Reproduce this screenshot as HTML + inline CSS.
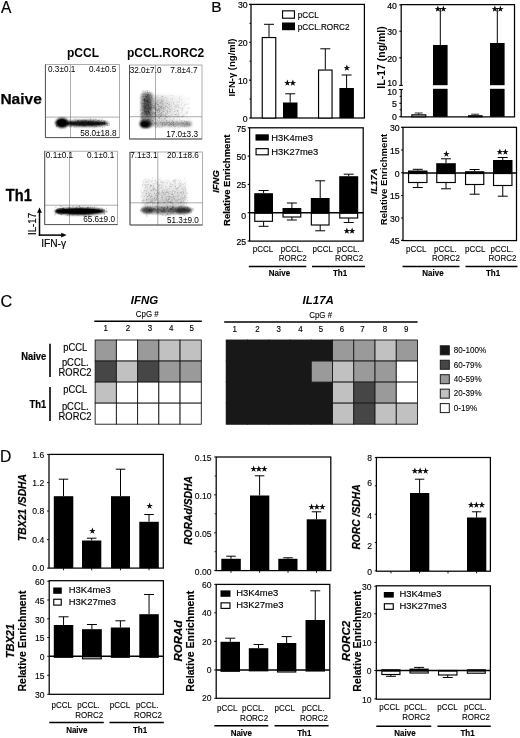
<!DOCTYPE html>
<html lang="en"><head><meta charset="utf-8"><title>Figure</title>
<style>
html,body{margin:0;padding:0;background:#fff}
body{width:520px;height:738px;overflow:hidden}
svg{display:block;font-family:"Liberation Sans",Arial,Helvetica,sans-serif;fill:#000}
</style></head><body>
<svg width="520" height="738" viewBox="0 0 520 738">
<defs>
<filter id="b1" x="-50%" y="-50%" width="200%" height="200%"><feGaussianBlur stdDeviation="1.3"/></filter>
<filter id="b2" x="-20%" y="-20%" width="140%" height="140%"><feGaussianBlur stdDeviation="2"/></filter>
<linearGradient id="gfade" x1="0" x2="1" y1="0" y2="0"><stop offset="0" stop-color="#000" stop-opacity="0.2"/><stop offset="0.5" stop-color="#000" stop-opacity="0.08"/><stop offset="1" stop-color="#000" stop-opacity="0.02"/></linearGradient>
<linearGradient id="gfade2" x1="0" x2="0" y1="0" y2="1"><stop offset="0" stop-color="#000" stop-opacity="0.04"/><stop offset="1" stop-color="#000" stop-opacity="0.17"/></linearGradient>
<filter id="b0" x="-50%" y="-50%" width="200%" height="200%"><feGaussianBlur stdDeviation="0.7"/></filter>
</defs>
<rect width="520" height="738" fill="#fff"/>
<text transform="translate(1 12.8) scale(0.94 1)" font-size="16.5" stroke="#000" stroke-width="0.2">A</text>
<text transform="translate(211.2 12.3) scale(1.02 1)" font-size="15.2" stroke="#000" stroke-width="0.2">B</text>
<text transform="translate(0.4 306.8) scale(0.97 1)" font-size="16.8" stroke="#000" stroke-width="0.2">C</text>
<text transform="translate(0 462.3) scale(0.98 1)" font-size="16" stroke="#000" stroke-width="0.2">D</text>
<text x="83" y="56.5" font-size="12" text-anchor="middle" font-weight="bold">pCCL</text>
<text x="165.6" y="56.7" font-size="12" text-anchor="middle" font-weight="bold">pCCL.RORC2</text>
<text x="0.4" y="103.9" font-size="15.5" font-weight="bold" stroke="#000" stroke-width="0.25">Naive</text>
<text transform="translate(5.8 200.9) scale(0.93 1)" font-size="15.7" font-weight="bold" stroke="#000" stroke-width="0.3">Th1</text>
<rect x="45.4" y="64.5" width="74.1" height="73.1" fill="#fff" stroke="#9a9a9a" stroke-width="0.8"/>
<line x1="70.5" y1="64.5" x2="70.5" y2="137.6" stroke="#8a8a8a" stroke-width="0.7"/>
<line x1="45.4" y1="117.1" x2="119.5" y2="117.1" stroke="#8a8a8a" stroke-width="0.7"/>
<path d="M45.4 64.5V137.6H119.5" fill="none" stroke="#555" stroke-width="1"/>
<ellipse cx="62" cy="123" rx="6.6" ry="5" fill="#000" opacity="0.97" filter="url(#b1)"/>
<ellipse cx="86" cy="123.3" rx="22.5" ry="3.3" fill="#000" opacity="0.8" filter="url(#b1)"/>
<ellipse cx="62" cy="123" rx="4.8" ry="3.4" fill="#000" opacity="0.9" filter="url(#b0)"/>
<ellipse cx="86" cy="123.4" rx="20" ry="1.9" fill="#000" opacity="0.5" filter="url(#b0)"/>
<path d="M80.42 124.43h.01M80.83 122.61h.01M70.98 122.83h.01M99.57 124.23h.01M98.52 123.85h.01M89.53 123.71h.01M60.68 125.18h.01M91.09 124.4h.01M60.32 119.46h.01M71.55 122.27h.01M88.28 123.2h.01M91.29 121.89h.01M88.32 124.17h.01M74.74 127.08h.01M91.79 125.93h.01M75.32 121.67h.01M79.18 123.07h.01M92.85 123.85h.01M77.74 121.19h.01M76.71 125.99h.01M72.69 123.84h.01M89.97 120.02h.01M84.68 126.17h.01M55.8 122.59h.01M82.51 121.5h.01M90.96 123.16h.01M63.49 125.12h.01M93.37 125.38h.01M104.17 124.1h.01M85.67 120.44h.01M92.62 121.95h.01M77.66 120.52h.01M70.45 122.13h.01M102.04 118.83h.01M63.59 123.83h.01M104.21 124.57h.01M89 121.68h.01M68.32 125.45h.01M99.43 123.65h.01M87.44 124.26h.01M106.32 124.66h.01M91.26 124.51h.01M62.04 126.12h.01M97.37 124.47h.01M56.37 121.91h.01M95.79 119.32h.01M81.42 125.54h.01M65.64 126.84h.01M91.73 122.97h.01M88.55 124.73h.01M85.69 125.82h.01M74.74 122.39h.01M98.58 123.36h.01M71.67 125.38h.01M104.52 122.32h.01M64.68 123h.01M81.91 122.64h.01M103.67 121.04h.01M101.65 120.51h.01M72.98 124.69h.01M99.8 125.19h.01M88.83 123.61h.01M86.13 124.57h.01M81.53 123.91h.01M92.02 123.3h.01M94.7 124.54h.01M78.01 122.48h.01M83.82 125.33h.01M79.29 124.15h.01M68.27 123.84h.01M89.58 123.82h.01M77.96 124.74h.01M87.95 122.15h.01M76.24 123.08h.01M80.84 123.16h.01M98.12 120.73h.01M83.07 125.4h.01M95.99 126.58h.01M60.18 122.52h.01M79.23 124.67h.01M99.24 120.12h.01M93.56 120.02h.01M86.46 125.93h.01M81.91 123.72h.01M95.16 123.61h.01M82.76 126.67h.01M98.68 122.65h.01M96.8 122.72h.01M85.85 124.85h.01M87.11 124.71h.01M62.62 119.98h.01M92.61 121.18h.01M69.63 120.07h.01M101.73 124.94h.01M104.62 121.24h.01M84.01 120.79h.01M94.72 126.8h.01M71.54 126.73h.01M97.83 122.91h.01M56.39 126.39h.01M82.65 121.97h.01M89.59 124.2h.01M104.97 121.06h.01M99.91 126.57h.01M104.33 122.9h.01M73.58 125.54h.01M85.61 123.57h.01M103.94 122.72h.01M58.05 125.1h.01M88.44 121.96h.01M83.87 125.13h.01M85.11 126.22h.01M83.14 125.59h.01M104.88 126.84h.01M74.59 125.24h.01M57.74 120.92h.01M56.52 125.65h.01M66.75 123.27h.01M81.31 123.24h.01M75.72 123.81h.01M109.08 123.4h.01M91.43 125.5h.01M81.23 120.53h.01M76.22 125.66h.01M60.95 121.98h.01M98.1 125.04h.01M84.11 125.07h.01M86.32 120.71h.01M62.1 121.89h.01M96.92 122.06h.01M71.37 121.6h.01M62.56 123.04h.01M67.49 124.1h.01M75.02 119.03h.01M94.15 122.69h.01M88.07 122.29h.01M94.92 124.94h.01M93.33 124.02h.01M102.67 124.75h.01M90.32 118.72h.01M96.55 126.18h.01M79.84 122.27h.01M71.01 124.82h.01M91.86 125.29h.01M71.32 123.1h.01M88.1 125.12h.01M83.52 122.87h.01M69.77 122.51h.01M96.48 123.52h.01M72.06 121.45h.01M92.7 124.36h.01M107.58 124.24h.01M83.06 124.45h.01M56.78 125.57h.01M88.55 121.76h.01M102.56 127.28h.01M64.37 121.83h.01M88.08 123.7h.01M78.42 121.16h.01M67.28 120.34h.01M107.84 125.48h.01M109.49 125.08h.01M71.79 123.87h.01M83.18 124.45h.01M73.81 123.03h.01M90.42 124.13h.01M92.93 123.76h.01M79.46 125.04h.01M84.69 121.48h.01M75.24 123.3h.01M82.47 123.65h.01M83.99 123.69h.01M82.12 120.53h.01M89.9 125.62h.01M90.09 122.88h.01M90.25 121.18h.01M57.45 123.43h.01M70.97 124.93h.01M69.45 126.77h.01M78.65 120.29h.01M73.31 124.45h.01M90.96 123.69h.01M104.77 124.85h.01M83.71 124.61h.01M107.16 125.44h.01M98.33 120.92h.01M81.92 124.91h.01M79.85 125.65h.01M92.35 125.3h.01M101.36 122.83h.01M79.19 125.22h.01M97.73 123.31h.01M67.66 123.71h.01M89.03 125.79h.01M94.96 123.35h.01M95.95 124.49h.01M86.88 123.42h.01M80.59 124.81h.01M69.24 121.92h.01M84.07 120.08h.01" stroke="#000" stroke-width="0.9" stroke-linecap="round" opacity="0.4" fill="none"/>
<text x="48" y="71.6" font-size="8.2">0.3±0.1</text>
<text x="116.3" y="71.6" font-size="8.2" text-anchor="end">0.4±0.5</text>
<text x="116.5" y="135.5" font-size="8.2" text-anchor="end">58.0±18.8</text>
<rect x="44.7" y="151.2" width="72.8" height="73.4" fill="#fff" stroke="#9a9a9a" stroke-width="0.8"/>
<line x1="69.5" y1="151.2" x2="69.5" y2="224.6" stroke="#8a8a8a" stroke-width="0.7"/>
<line x1="44.7" y1="205.2" x2="117.5" y2="205.2" stroke="#8a8a8a" stroke-width="0.7"/>
<path d="M44.7 151.2V224.6H117.5" fill="none" stroke="#555" stroke-width="1"/>
<ellipse cx="80" cy="211.3" rx="25.5" ry="3.6" fill="#000" opacity="0.95" filter="url(#b1)"/>
<ellipse cx="79" cy="211.2" rx="22.5" ry="2.6" fill="#000" opacity="0.85" filter="url(#b0)"/>
<ellipse cx="61" cy="211.2" rx="5.5" ry="3.3" fill="#000" opacity="0.5" filter="url(#b0)"/>
<path d="M73.03 206.38h.01M69.07 212.56h.01M89.06 211.07h.01M76.29 207.8h.01M97.5 209.08h.01M77.04 206.83h.01M92.49 213.44h.01M90.09 206.97h.01M69.93 207.83h.01M80.51 211.8h.01M90.14 212.88h.01M104.04 213.99h.01M59.01 209.99h.01M63.04 208.62h.01M78.7 211.21h.01M87.85 207.39h.01M60.2 211.14h.01M76.81 210.45h.01M78.99 209.38h.01M91.22 212.05h.01M78.6 209.59h.01M64.3 211.29h.01M55.93 211.68h.01M82.36 207.89h.01M75.99 210.45h.01M87.36 212.67h.01M79.42 209.16h.01M77.69 211.04h.01M91.75 211.91h.01M68.44 207.95h.01M74.03 209.42h.01M62.21 210.92h.01M72.14 211.45h.01M88.37 210.21h.01M97.63 211.49h.01M67.98 211.79h.01M85.16 214.27h.01M92.26 213.47h.01M88.16 210.83h.01M88.15 208.61h.01M98.9 208.76h.01M83.99 216.29h.01M76.43 211.25h.01M98.61 211.26h.01M67.08 211.82h.01M89.31 212.9h.01M67.64 215.41h.01M106.67 211.24h.01M84.3 210.17h.01M102.63 209.51h.01M90.79 210.05h.01M68.9 212.92h.01M101.34 211.18h.01M69.16 213.15h.01M79.21 211.95h.01M104.37 213.92h.01M80.05 213.09h.01M69.64 211.09h.01M101.85 208.28h.01M55.92 207.31h.01M98.81 210.1h.01M79.03 210.45h.01M78.06 208.59h.01M80.39 207.75h.01M78.86 211.94h.01M87.48 210.64h.01M65.54 211.58h.01M72.25 214.96h.01M92.28 210.92h.01M72.46 209.51h.01M65 210.35h.01M84.72 212.44h.01M89.1 216.24h.01M68.72 211.23h.01M71.66 211.61h.01M82.47 212.18h.01M76.18 212.08h.01M80.84 213.05h.01M79.96 208.72h.01M63.29 212.71h.01M69.6 212.72h.01M91.93 211.94h.01M88.13 210.95h.01M57.45 211.13h.01M87.27 209.93h.01M78.41 213h.01M65.95 212.74h.01M82.34 210.84h.01M104.64 211.96h.01M94.36 209.54h.01M79.74 211.18h.01M94.39 207h.01M91.91 210.89h.01M87.17 212.08h.01M56.02 210.69h.01M103.88 209.82h.01M63.63 207.94h.01M60.46 212.01h.01M107.08 212.23h.01M71.69 209.58h.01M88.46 212.52h.01M63.76 208.39h.01M84.66 211.79h.01M59.09 210.71h.01M71.32 212.3h.01M78.13 210.99h.01M74.34 213.73h.01M102.25 210.32h.01M93.54 209.38h.01M81.15 213h.01M104.23 210.28h.01M78.81 211.67h.01M56.03 211.24h.01M69.19 212.09h.01M61.92 206.46h.01M80.61 211.83h.01M71.22 213.33h.01M75.63 209.75h.01M87.64 207.44h.01M69.16 211.15h.01M93.58 210.81h.01M84.94 209.63h.01M84.83 215.19h.01M69.7 211.24h.01M82.77 213.66h.01M60.21 206.16h.01M89.7 213.11h.01M83.28 211.81h.01M94.87 212.09h.01M106.62 208.23h.01M93 210.31h.01M94.78 216.37h.01M79.91 210.59h.01M72.01 209.19h.01M69.91 212.73h.01M80.59 211.36h.01M77.23 213.39h.01M87.9 210.86h.01M90.64 210.84h.01M61.55 214.69h.01M87.44 208.9h.01M97.26 212.03h.01M54.97 215.06h.01M85.34 213.34h.01M83.17 210.84h.01M55.23 213.53h.01M80.48 210.51h.01M85.61 211.39h.01M90.81 210.31h.01M79.42 206.07h.01M73.23 212.82h.01M101.39 210.33h.01M78.06 215h.01M74.79 212.96h.01M106.85 211.3h.01M99.63 209.49h.01M83.32 211.01h.01M81.84 213.91h.01M70.8 212.39h.01M63.12 212.39h.01M89.15 210.53h.01M88.5 207.48h.01M92.16 207.49h.01M68.86 209.87h.01M73.58 213.26h.01M81.31 210.25h.01M88.7 215h.01M80.1 212.08h.01M99.84 211.84h.01M79.37 212.2h.01M95.45 212.81h.01M75.64 208.67h.01M81.65 213.68h.01M62.57 208.73h.01M79.61 206.55h.01M75.84 210.15h.01M87.21 209.52h.01M65.89 210.25h.01M79.2 209.6h.01M80.19 213h.01" stroke="#000" stroke-width="0.9" stroke-linecap="round" opacity="0.4" fill="none"/>
<text x="45.8" y="157.6" font-size="8.2">0.1±0.1</text>
<text x="114.3" y="157.6" font-size="8.2" text-anchor="end">0.1±0.1</text>
<text x="115" y="222.3" font-size="8.2" text-anchor="end">65.6±9.0</text>
<rect x="129.5" y="65" width="72.5" height="74" fill="#fff" stroke="#9a9a9a" stroke-width="0.8"/>
<line x1="155.5" y1="65" x2="155.5" y2="139" stroke="#8a8a8a" stroke-width="0.7"/>
<line x1="129.5" y1="116.7" x2="202" y2="116.7" stroke="#8a8a8a" stroke-width="0.7"/>
<path d="M129.5 65V139H202" fill="none" stroke="#555" stroke-width="1"/>
<rect x="140.8" y="92.5" width="12.4" height="35" rx="4" fill="#000" opacity="0.42" filter="url(#b1)"/>
<ellipse cx="147.3" cy="105" rx="3.8" ry="11" fill="#000" opacity="0.36" filter="url(#b1)"/>
<ellipse cx="145.3" cy="124" rx="5.8" ry="4.1" fill="#000" opacity="0.88" filter="url(#b1)"/>
<ellipse cx="144.6" cy="124.3" rx="3.5" ry="2.6" fill="#000" opacity="0.7" filter="url(#b0)"/>
<rect x="153.5" y="96" width="34" height="24" fill="url(#gfade)" filter="url(#b2)"/>
<rect x="152.5" y="121" width="39.5" height="5.8" rx="2" fill="#000" opacity="0.27" filter="url(#b1)"/>
<ellipse cx="186" cy="124.2" rx="5" ry="2.2" fill="#000" opacity="0.12" filter="url(#b1)"/>
<path d="M150.59 123.2h.01M144.29 103.01h.01M144.48 106.68h.01M148.47 94.09h.01M148.28 106.75h.01M140.96 109.77h.01M149.38 108.99h.01M148.32 111.19h.01M150.97 104.88h.01M149.6 103.11h.01M149.13 99.27h.01M146.45 123.44h.01M148.23 105.5h.01M143.14 99.49h.01M147.42 115.92h.01M148.16 111.98h.01M146.67 119.84h.01M145.55 101.78h.01M149.64 107.6h.01M145.91 101.53h.01M145.98 112.92h.01M147.93 95.51h.01M148.16 108.7h.01M143.6 114.34h.01M145.9 103.81h.01M149.35 119.55h.01M144.6 111.16h.01M145.22 118.35h.01M144.73 114.71h.01M145.41 111.75h.01M146.5 100.65h.01M141.54 115.11h.01M141.29 117.93h.01M144.95 108.38h.01M150.84 108.12h.01M142.35 90.89h.01M150.58 114.03h.01M144.19 115.17h.01M148.39 113.15h.01M149.68 113.97h.01M147.34 111.68h.01M145.75 107.34h.01M149.64 102.79h.01M150.47 99.51h.01M147.65 101.99h.01M147.31 100.44h.01M141.69 117.38h.01M147.77 101.69h.01M147.44 116.41h.01M143.67 105.95h.01M148.53 112h.01M150.78 110.12h.01M146.84 104.35h.01M147.64 102.96h.01M143.52 99.97h.01M144.89 101.18h.01M143.09 113.05h.01M142.61 113.27h.01M143.55 110.35h.01M151.2 108.93h.01M144.46 107.46h.01M147.27 90.53h.01M144.86 108.55h.01M145.3 107.76h.01M149.15 114.28h.01M149.7 112.59h.01M145.88 106.83h.01M145.93 104.02h.01M146.23 90.62h.01M145.73 106.77h.01M143.68 106.77h.01M148.45 105.44h.01M148.46 104.13h.01M149.53 110.53h.01M146.87 101.42h.01M148.84 102.39h.01M147.51 102.15h.01M147.45 114.17h.01M144 106.69h.01M148.77 108.38h.01M150.78 125.92h.01M149.54 121.53h.01M149.75 114.73h.01M144.82 100.22h.01M149.64 98.34h.01M141 97.52h.01M144.6 100.07h.01M147.54 99.88h.01M150.99 106.26h.01M143.32 119.43h.01M144.93 109.1h.01M146.76 104.01h.01M147.84 100.42h.01M142.75 99.79h.01M146.73 107.53h.01M148.58 108.14h.01M144.26 100.27h.01M148.35 112.03h.01M146.41 105.35h.01M149.8 107.15h.01M149.16 112.53h.01M147.48 119.41h.01M144.97 103.59h.01M144.21 99.43h.01M151.78 123.71h.01M146.87 112.4h.01M150.56 114.67h.01M150.66 95h.01M144.75 111.3h.01M151.39 107.99h.01M144.05 103.63h.01M144.69 98.85h.01M151.6 101.06h.01M146.87 127.54h.01M150.59 110.19h.01M144.84 110.9h.01M151.99 112.92h.01M150.84 107.93h.01M148.45 105.09h.01M148.17 119.35h.01M142.22 106.41h.01M147.57 101.57h.01M145.81 114.48h.01M153.21 112.98h.01M147.84 92.26h.01M152.97 107.73h.01M146.69 96.38h.01M146.62 96.59h.01M147.03 111.43h.01M146.9 109.66h.01M144.07 120.58h.01M146.2 99.74h.01M143.57 103.63h.01M147.73 95.77h.01M146.36 120.55h.01M148.98 105.56h.01M147.21 105.86h.01M146.65 113.96h.01M146.73 98.55h.01M148.88 101.2h.01M147.27 127.68h.01M143.45 96.32h.01M140.79 110.46h.01M142.06 112.86h.01M144.32 103.51h.01M147.86 119.89h.01M153.01 116.81h.01M147.26 108.75h.01M152.57 120.57h.01M145.81 111.35h.01M147.72 107.5h.01M145.2 94.4h.01M145.09 92.33h.01M150.72 112.1h.01M142.94 120.26h.01M152.69 114.69h.01M148.5 111.02h.01M147.45 108.63h.01M150.17 92.8h.01M142.83 93.76h.01M145.02 101.25h.01M147.98 109.53h.01M146.9 100.57h.01M145.39 116.05h.01M149.24 107.96h.01M145.77 121.75h.01M144.9 113.16h.01M150.49 104.48h.01M149.44 96.4h.01M150.04 108.9h.01M141.72 113.36h.01M143.94 119.18h.01M144.63 105.44h.01M147.71 103.84h.01M147.63 101.74h.01M148.95 107.05h.01M150.52 107.3h.01M141.1 107.91h.01M148.3 117.17h.01M143.34 121.7h.01M146.33 113.46h.01M145.63 96.4h.01M150.31 115.61h.01M151.72 115.14h.01M144.97 91.21h.01M144.72 100.59h.01M144.19 112.53h.01M147.85 104.44h.01M147.35 105.62h.01M147.48 114.14h.01M149.87 100.48h.01M141.98 120.56h.01M147.17 117.5h.01M141.54 103.87h.01M146.89 93.31h.01M145.15 113.88h.01M150.25 122.14h.01M144.04 93.69h.01M148.47 115.93h.01M147.42 94.64h.01M149.3 114.53h.01M148.57 102.37h.01M147.77 114.51h.01M147.85 111.57h.01M146.84 115.45h.01M144.92 106.22h.01M145.82 112.43h.01M151.91 104.61h.01M153.38 121.53h.01M149.33 112.58h.01M152.47 105.29h.01M146.44 96.91h.01M148.31 119.78h.01M148.5 111.02h.01M146.16 108.61h.01M142.24 116.96h.01M145.49 96.51h.01M144.4 99.17h.01M149.54 117.05h.01M142.46 115.8h.01M149.64 101.5h.01M142.04 99.92h.01M144.77 110.25h.01M147.55 92.42h.01M149.7 95.53h.01M144.58 98.88h.01M145.06 119.33h.01M149.53 112.72h.01M147.82 92.3h.01M145.13 101.76h.01M143.67 111.84h.01M144.43 100.26h.01M148.7 119.64h.01M147.36 97.72h.01M150.69 109.82h.01M149.77 121.04h.01M150.41 102.81h.01M150.17 114.37h.01M141.88 103.15h.01M142.24 105.96h.01M148.65 96.85h.01M148.01 120.98h.01M142.56 117.08h.01M146.13 109.56h.01M146.31 116.49h.01M150.12 107.83h.01M142.45 114.04h.01M145.3 112.97h.01M147.64 122.42h.01M150.44 102.72h.01M147.92 123.76h.01M145.08 111.12h.01M150.61 118.94h.01M148.46 94.46h.01M142.76 109.35h.01M144.04 117.81h.01M149.27 91.12h.01M144.18 108.58h.01M145.22 105.53h.01M148.3 99.31h.01M148.29 100.96h.01M145.06 112.1h.01M144.96 109.73h.01M151.92 107.26h.01M146.33 113.99h.01M145.63 117.29h.01M142.69 112.88h.01M145.16 99.41h.01M152.46 98.92h.01M152.42 113.25h.01M151.45 97.72h.01M150.64 120.84h.01M146.43 105.77h.01M145.45 101.02h.01M148.23 110.14h.01M147.37 123.35h.01M145.75 111.49h.01M151.47 97.46h.01M150.12 124.4h.01M142.46 96.57h.01M148.4 120.8h.01M141.63 103.99h.01M140.66 114.4h.01M144.44 104.47h.01M146.97 112.18h.01M145.69 107.14h.01M145.05 108.09h.01M143.05 107.6h.01M140.62 102.34h.01M152.93 107.76h.01M142.77 109.44h.01M143.69 91.31h.01M144.44 114h.01" stroke="#000" stroke-width="0.8" stroke-linecap="round" opacity="0.3" fill="none"/>
<path d="M167.65 114.37h.01M153.91 100.73h.01M159.12 118.41h.01M162.78 108.47h.01M167.24 112.02h.01M159.29 114.12h.01M162.51 104.03h.01M163.94 110.17h.01M161.5 104.38h.01M161.18 96.26h.01M158.35 104.82h.01M178.12 102.2h.01M157.94 114.55h.01M163.39 120.3h.01M175.48 107.79h.01M159.13 106.91h.01M165.86 115.27h.01M167.6 109.96h.01M171.46 107.4h.01M183.85 107.2h.01M158.5 108.83h.01M153.59 115.73h.01M168.52 113.49h.01M166.93 101.41h.01M166.2 101.22h.01M169.49 112.1h.01M162.07 120.32h.01M173.64 113.31h.01M154.03 112.32h.01M174.35 118.9h.01M159.94 103.87h.01M177.71 111.69h.01M157.68 100.11h.01M158.53 103.71h.01M161.39 112.6h.01M167.87 111.8h.01M165.23 108.49h.01M154.06 119.54h.01M165.49 118.79h.01M188.62 108.31h.01M160.35 109.92h.01M162.53 101.46h.01M160.94 118.14h.01M156.84 115.95h.01M155.8 110.23h.01M169.62 109.57h.01M155.32 112.65h.01M182.01 108.82h.01M157.38 110.83h.01M172.02 110.42h.01M174.32 111.72h.01M171 116.97h.01M154.73 99.94h.01M167.37 107.39h.01M153.66 106.85h.01M153.71 101.42h.01M154.66 98.28h.01M158.72 108.92h.01M181.12 105.02h.01M162.83 116.18h.01M165.48 112.13h.01M161.59 107.64h.01M175.85 105.74h.01M159.82 103.01h.01M161.08 101.15h.01M160.32 113.58h.01M165.21 108.8h.01M170.51 112.65h.01M166.53 103.54h.01M158.67 100.63h.01M161.33 115.06h.01M169.66 104.79h.01M166.39 120.32h.01M158.16 101.23h.01M153.52 108.86h.01M165.87 117.33h.01M177.2 111.18h.01M178.58 108.07h.01M176.88 116.06h.01M157.98 102.26h.01M180.17 113.5h.01M187.81 98.83h.01M159.46 117.7h.01M175.85 114.35h.01M156.63 109.52h.01M166.57 105.82h.01M156.74 101.96h.01M157.62 109.59h.01M162.12 96.22h.01M154.79 113.99h.01M157.21 97.41h.01M163.83 100.09h.01M162.56 105.39h.01M156.49 106.91h.01M156.29 107.34h.01M165.14 102.71h.01M160.71 105.26h.01M154.14 109.04h.01M167.52 112.03h.01M175.17 115.12h.01M159.42 117.91h.01M163.76 111.44h.01M181.65 99.83h.01M157.75 110.33h.01M173.91 117.64h.01M177.42 115.09h.01M154.04 108.19h.01M156.64 110.82h.01M154.23 112.34h.01M164.91 115.21h.01M187.2 118.81h.01M160.59 113.47h.01M155.29 115.1h.01M165.14 108.04h.01M167.83 120.25h.01M160.49 106.48h.01M161.83 119.97h.01M157.01 115.1h.01M159.57 110.89h.01M154.17 101.44h.01M175.11 106.78h.01M154.3 117.22h.01M169.32 106.47h.01M173.36 119.07h.01M155.06 106.91h.01M155.36 114.67h.01M162.69 112.21h.01M155.66 114.33h.01M156.54 110.44h.01M154.01 114.26h.01M181.72 112.65h.01M161.8 106.85h.01M167.36 103.26h.01M161.93 102.04h.01M167.35 112.81h.01M154.32 113.65h.01M171.01 105.54h.01M182.14 108.12h.01M157.84 105.79h.01M157.93 111.8h.01M179.12 107.2h.01M162.95 113.42h.01M158.86 112.53h.01M154.32 118.31h.01M156.82 102.67h.01M162.59 108.19h.01M156.65 115.14h.01M189.78 108h.01M154.94 105.59h.01M171.65 103.88h.01M176.53 107.27h.01M153.53 112.97h.01M178.49 104.76h.01M161.5 108.7h.01M187.52 111.43h.01M155.58 119.07h.01M156.28 111.02h.01M156.57 97.77h.01M154.66 118.26h.01M163.08 114.86h.01M157.98 112.32h.01M170.72 119.43h.01M176.87 105.13h.01M154.45 106.99h.01M171.97 99.45h.01M154.3 116.05h.01M176.8 102.15h.01M162.56 111.1h.01M182.28 109.01h.01M178.44 114.29h.01M159.9 113.24h.01M166.15 115.68h.01M153.57 101.41h.01M163.65 108.49h.01M155.3 106.45h.01M181.58 96.03h.01M158.92 107.73h.01M172.98 102.37h.01M163.06 96.16h.01M163.58 100.36h.01M153.79 107.73h.01M155.02 114.19h.01M157.54 110.26h.01M154.92 107.81h.01M170.31 109.98h.01M166.31 110.83h.01M165.53 97.94h.01M155.02 107.82h.01M182.01 109.03h.01M155.34 107.27h.01M163.03 103.43h.01M155.32 109.47h.01M160.78 116.05h.01M181.14 117.11h.01M155.73 98.35h.01M156.01 104.01h.01M177.98 116.38h.01M161.14 106.66h.01M179.13 102.07h.01M174.5 106.56h.01M159.21 114.22h.01M187.65 107.91h.01M177.13 110.93h.01M163.7 107.47h.01M161.18 107.22h.01M167.52 103.42h.01M154.5 116.44h.01M161.44 107.96h.01M155.6 109.45h.01M153.99 99.15h.01M167.86 108.38h.01M157.97 120.74h.01M164.44 118.79h.01M157.54 104.72h.01M158.25 116.95h.01M158.6 107.22h.01M166.13 106.46h.01M162.29 108.99h.01M164.18 111.8h.01M155.47 112.6h.01M158.37 104.35h.01M157.4 112.93h.01M154.79 95.75h.01M166.68 105.38h.01M165.32 106.55h.01M170.85 105.43h.01M162.15 99.64h.01M162.36 106.43h.01M158.71 109.76h.01M163.56 114.8h.01M160.26 108.5h.01M159.59 108.91h.01M181.21 110.19h.01M162.97 119.04h.01M158.19 115.76h.01M174.21 109.01h.01M161.62 115.69h.01M154.4 103.35h.01M172.11 114.73h.01M155.12 112.45h.01M155.85 105.86h.01M169.25 115.47h.01M166.91 117.68h.01M163.71 98.24h.01M172.29 108.97h.01M162.53 96.85h.01M175.02 105.21h.01M165.84 109.85h.01M163.14 119h.01M161.08 107.23h.01M174.93 116.65h.01M160.18 102.15h.01M161.93 97.9h.01M158.35 112.64h.01M160.44 102.55h.01M158.94 106.98h.01M175.16 114.67h.01M161.72 102.35h.01M156.35 108.1h.01M165.49 113.46h.01M158.98 118.35h.01M179.46 119.46h.01M161.28 110.43h.01M154.18 108.91h.01M174.29 109.78h.01M164.33 118.55h.01M163.7 109.4h.01M169.68 104.08h.01M166.14 114.01h.01M159.55 120.17h.01M163.93 105.88h.01M154.96 104.15h.01M165.04 114.89h.01M162.84 96.22h.01M164.07 111.35h.01M158.86 105.3h.01M155.14 101.51h.01M184.99 104.37h.01M184.17 105.66h.01M158.29 111.59h.01M163.53 104.66h.01M156.32 109.35h.01M167.42 103.92h.01M167.67 116.95h.01M175.19 111.53h.01M158.63 109.26h.01M158.58 108.88h.01M179.35 99.96h.01M156.57 103.76h.01M163.14 103.93h.01M168.07 107.56h.01M164.11 119.3h.01M160.91 109.32h.01M155.31 116.5h.01M155.08 120.05h.01M154.98 113.87h.01M177.75 117.51h.01M166.79 110.44h.01M153.68 106.98h.01M174.11 104.25h.01M159.61 120.17h.01M156.1 109.14h.01M186.29 112.91h.01M165.72 104.73h.01M160.32 116.17h.01M154.29 117.16h.01M161.61 105.36h.01M154.13 105.61h.01M190.9 113.49h.01M185.58 104.34h.01M177.19 106.13h.01M163.08 114.82h.01M160.42 107.76h.01M171.25 110.65h.01M182.65 115.85h.01M162.77 110.99h.01M156.17 104.1h.01M159.71 117.27h.01M165.04 116.45h.01M160.32 115.62h.01M160.73 113.03h.01M177.97 111.04h.01M159.56 109.66h.01M158.17 114.38h.01M157.29 120.32h.01M159.35 111.91h.01M155.87 108.59h.01M157.9 106.32h.01M178.73 115.14h.01M178.84 115.34h.01M176.38 113.28h.01M171.45 115.39h.01M160.12 114.45h.01M163.34 110.67h.01M155.46 117.65h.01M170.66 108.41h.01M159.92 109.74h.01M156.85 119.76h.01M182.32 115.95h.01M164.45 115.77h.01M157.91 110.51h.01M168.5 102.18h.01M165.24 106.72h.01M154.76 116.42h.01M156.23 113.41h.01M168.72 104.19h.01M155.12 102.93h.01M163.21 106.8h.01M158.43 115.43h.01M157.09 112.11h.01M155.39 108.23h.01M160.73 103.52h.01M187.04 111.93h.01M155.48 109.2h.01M169.44 111.31h.01M168.75 104.9h.01M168.56 115.72h.01M170.32 109.64h.01M167.38 111.05h.01M187.64 112.87h.01M172.04 109h.01M154.07 107.4h.01M155.97 111.54h.01M160.21 115.54h.01M154.06 105.51h.01M156.27 119.42h.01M179.11 98.73h.01M157.62 104.42h.01M161.49 106.71h.01M153.51 103.13h.01M178.66 110.52h.01M154.11 103.42h.01M180.45 107.68h.01M157.42 108.04h.01M155.15 110.83h.01M187.93 104.52h.01M172.88 119.4h.01M160.5 115.45h.01M172.77 112.39h.01M154.82 104.14h.01M169.97 117.46h.01M172.28 114.58h.01M161.94 100.26h.01M154.28 106.97h.01M163.54 101.98h.01M190.36 118.33h.01M154.13 118.63h.01M170.48 111.5h.01M164.57 104.02h.01M157.52 102.35h.01M154.36 104.66h.01M156.65 115.52h.01M158.71 117.18h.01M169.04 118.39h.01M157.3 109.97h.01M161.74 118.52h.01M183.74 114.58h.01M155.64 103.27h.01M177.15 106.88h.01M164.63 109.8h.01M168.87 104.94h.01M166.28 97.09h.01M178.4 112.59h.01M155.2 107.76h.01M156.74 116.38h.01M154.37 108.54h.01M170.43 114.38h.01M161.82 114.54h.01M162.35 113.83h.01M159.81 110.93h.01M153.65 112.02h.01M171.18 106.36h.01M162.9 108.1h.01M161.47 112.97h.01M153.62 118.22h.01M188.78 103.01h.01M168.3 109.45h.01M155.59 115.14h.01M153.89 111.69h.01M158.42 95.32h.01M156.38 100.12h.01M190.09 98.44h.01M156.08 112.55h.01M172.48 95.7h.01M159.04 115.1h.01M159.94 102.67h.01M178.42 107.23h.01M157.33 118.88h.01M167.35 111.99h.01M177.49 105.01h.01M163.05 105.11h.01M158.48 109.51h.01M165.68 119.52h.01M156 115.03h.01M161.7 112.69h.01M154.07 108.89h.01M161.61 113.87h.01M153.54 120.7h.01M179.23 117.6h.01M161.26 99.1h.01M158.16 104.75h.01M161.16 101.84h.01M159.29 99.21h.01M177.99 113.67h.01M186.31 112.72h.01M161.7 114.9h.01M165.1 106.64h.01M154.74 113.54h.01M187.01 114.41h.01M167.04 106.43h.01M176.84 119.98h.01M166.65 113.65h.01M162.67 101.49h.01M168.09 107.4h.01M183.79 116.05h.01M153.9 113.74h.01M161.8 119.98h.01M154.75 105.64h.01M165.67 103.38h.01M161.04 100h.01M160.57 107.69h.01M155.2 116.16h.01M155.17 113.22h.01M154.9 105.13h.01M164.09 109.42h.01M164.8 118.19h.01M157.1 106.2h.01M163.58 107.88h.01M165.93 116.22h.01M154.57 113.21h.01M161.61 115.7h.01M171.05 102.33h.01M155.01 113.11h.01M156.13 102.95h.01M155.56 104.5h.01M174.46 114.66h.01M160.02 111.45h.01M153.71 105.19h.01M158.49 106.6h.01M170.71 95.46h.01M167.09 116.55h.01M182.15 103.04h.01M156.08 109.3h.01M173.69 102.65h.01M169.47 111.26h.01M160.04 106.09h.01M172.21 120.86h.01M154.12 105.65h.01M166.46 117.17h.01M176.25 115.04h.01M155.18 119.53h.01M157.61 104.42h.01M156.5 95.98h.01M165.69 114.2h.01M155.19 113.1h.01M176.08 109.98h.01M156.37 103.65h.01M169.77 107.42h.01M160.21 118.94h.01M169.87 116.04h.01M159.37 114.66h.01M182.4 116.69h.01M176.06 114.14h.01M177.38 110.55h.01M169.43 102.85h.01M155.91 114.83h.01M179.61 97.55h.01M166.71 118.96h.01M154.6 107h.01M184.92 114.1h.01M165.96 113.9h.01M159.77 110.74h.01M162.33 102.92h.01M159.61 106.04h.01M153.58 103.56h.01M153.79 106.27h.01M162.11 111.78h.01M155.71 109.3h.01M169.06 108.65h.01M163.2 115.43h.01M157.75 101.16h.01M174.13 111.55h.01M182.32 111.12h.01M167.6 99h.01M159.81 106.87h.01M173.68 103.7h.01M172.33 98.87h.01M159.54 108.9h.01M164.7 107.3h.01M159.26 110.98h.01M158.97 118.07h.01M159.91 108.88h.01M157.41 110.16h.01M155.54 116.42h.01M153.6 115.18h.01M161.76 103.53h.01" stroke="#000" stroke-width="0.72" stroke-linecap="round" opacity="0.2" fill="none"/>
<path d="M161.98 123.36h.01M174.35 124.58h.01M168.45 125.47h.01M169.59 121.75h.01M182.96 123.37h.01M187.14 122.87h.01M179.15 124.54h.01M158.03 126.43h.01M185.63 124.86h.01M180.42 123.14h.01M171.87 124.39h.01M177.25 125.22h.01M169.42 122.79h.01M164.98 124.71h.01M166.86 123.04h.01M167.74 123.57h.01M181.69 120.58h.01M168.18 124.82h.01M178.11 126.07h.01M185.17 122.19h.01M179.95 123.42h.01M161.97 126.65h.01M164.14 122.52h.01M166.91 122.53h.01M184.58 124.66h.01M189.5 124.71h.01M164.31 125.81h.01M163.81 123.2h.01M169.91 124.07h.01M186.94 122.95h.01M176.4 123.95h.01M156.26 122.1h.01M169.25 124.7h.01M176.01 124.83h.01M172.61 123.22h.01M177.34 122.26h.01M155.18 123.42h.01M154.1 123.11h.01M162.64 123.04h.01M171.44 122.61h.01M166.7 121.03h.01M173.82 122.47h.01M161.95 124.42h.01M173.18 124.18h.01M153.24 124.4h.01M173.87 122.31h.01M181.34 123.91h.01M172.23 123.22h.01M178.87 124.17h.01M186.26 124.78h.01M164.26 123.61h.01M183.52 123.37h.01M176.8 124.91h.01M169.74 119.95h.01M173.66 124.37h.01M173.7 122.68h.01M187.19 123.77h.01M164.17 122.75h.01M176.51 122.1h.01M159.42 127.48h.01M188.47 125.83h.01M189.16 125.04h.01M187.58 124.85h.01M189.18 123.14h.01M173.61 125.35h.01M170.93 125.91h.01M173.02 125.2h.01M173.07 121.42h.01M175.52 126.29h.01M186.34 126.99h.01M178.98 122.96h.01M172.23 120.65h.01M169.63 125.58h.01M182.39 126.32h.01M160.32 122.86h.01M178.73 127.61h.01M157.54 126.41h.01M177.39 123.14h.01M171.15 124.38h.01M184.38 126.39h.01M178.46 124.63h.01M169.68 123.29h.01M156.47 127.41h.01M166.36 120.36h.01M175.34 123.94h.01M174.22 127.18h.01M170.66 123.54h.01M162.57 123.96h.01M166.46 124.36h.01M161.17 127.38h.01M182.92 125.43h.01M181.04 125.43h.01M180.53 126.47h.01M184.73 126.36h.01M165.65 124h.01M162.78 125.68h.01M182.52 123.18h.01M187.65 122.04h.01M170.83 125.11h.01M171.55 124.68h.01M186.93 124.58h.01M158.11 125.25h.01M170.77 124.2h.01M164.83 121.58h.01M156.22 123.38h.01M186.54 121.96h.01M162.82 124.93h.01M162.27 125.16h.01M165.9 124.54h.01M173.33 124h.01M171.48 126.47h.01M165.09 124.93h.01M174.06 124.85h.01M184.56 121.37h.01M175.48 123.69h.01M168.05 122.5h.01M162.05 122.19h.01M181.4 122.29h.01M173.79 126.52h.01M171.47 122.24h.01M168.94 122.25h.01M154.33 123.59h.01M166.94 122.58h.01M160.78 122.37h.01M174.99 126.44h.01M169.34 127.92h.01M157.35 123.72h.01" stroke="#000" stroke-width="0.8" stroke-linecap="round" opacity="0.25" fill="none"/>
<text x="129.7" y="73" font-size="8.2">32.0±7.0</text>
<text x="197.5" y="73" font-size="8.2" text-anchor="end">7.8±4.7</text>
<text x="198" y="137" font-size="8.2" text-anchor="end">17.0±3.3</text>
<rect x="130" y="152" width="72.5" height="73" fill="#fff" stroke="#9a9a9a" stroke-width="0.8"/>
<line x1="157.8" y1="152" x2="157.8" y2="225" stroke="#8a8a8a" stroke-width="0.7"/>
<line x1="130" y1="202.8" x2="202.5" y2="202.8" stroke="#8a8a8a" stroke-width="0.7"/>
<path d="M130 152V225H202.5" fill="none" stroke="#555" stroke-width="1"/>
<ellipse cx="167" cy="210.1" rx="25.5" ry="4.1" fill="#000" opacity="0.45" filter="url(#b1)"/>
<ellipse cx="183.5" cy="210.4" rx="8" ry="3.7" fill="#000" opacity="0.55" filter="url(#b1)"/>
<ellipse cx="147" cy="210.1" rx="6" ry="3.7" fill="#000" opacity="0.5" filter="url(#b1)"/>
<ellipse cx="168" cy="210.3" rx="21" ry="1.8" fill="#000" opacity="0.18" filter="url(#b0)"/>
<rect x="143" y="181" width="43" height="24" fill="url(#gfade2)" filter="url(#b2)"/>
<path d="M168.49 211.52h.01M183.52 208.69h.01M148.84 209.62h.01M171.29 208.33h.01M180.06 214.37h.01M146.21 211.02h.01M181.86 205.23h.01M170.01 209.53h.01M146.19 213.43h.01M170.17 208.89h.01M173.49 211.73h.01M178.25 211.57h.01M172.98 207.12h.01M160.84 210.43h.01M161.45 207.43h.01M140.41 210.73h.01M167.47 208.62h.01M160.91 207.85h.01M156.04 209.85h.01M157.59 211.82h.01M164.92 210.43h.01M172.93 213.32h.01M175.79 210.68h.01M164.61 208.06h.01M161.99 211.83h.01M170.31 209.12h.01M147.53 206.22h.01M171.7 212.7h.01M172.47 206.62h.01M163.89 210.66h.01M153.58 210.98h.01M164.07 207.98h.01M148.85 212.15h.01M172.21 207.85h.01M152.18 212.36h.01M175.71 209.33h.01M190.28 209.37h.01M151.56 212.87h.01M164.25 210.97h.01M167.56 207.56h.01M149.66 209.61h.01M187.54 207.56h.01M186.85 210.66h.01M150.75 210.78h.01M175.29 207.82h.01M150.79 211.22h.01M155.18 206.35h.01M163.48 210.53h.01M158.87 207.11h.01M170.1 205.68h.01M174.81 211.34h.01M191.48 212.33h.01M172.18 210.77h.01M167.4 206.75h.01M188.33 211.43h.01M162.83 207.2h.01M188.64 211.44h.01M149.72 211.8h.01M172.83 209.05h.01M157.84 212.81h.01M165.19 212.1h.01M162.56 211.94h.01M179.07 207.53h.01M151.38 209.91h.01M179.13 210.8h.01M185.08 206.62h.01M174.18 208.53h.01M168.46 210.91h.01M152.87 209.52h.01M150.06 210.77h.01M154.62 208.85h.01M170.19 208.45h.01M183.72 208.49h.01M179.36 210.81h.01M151.95 209.55h.01M154.83 209.19h.01M163.06 214.69h.01M160.91 214.06h.01M173.5 206.81h.01M181.96 211.08h.01M163.95 209.47h.01M170.77 209.34h.01M159.22 209.17h.01M184.01 208.54h.01M172.52 207.2h.01M156.65 206.64h.01M164.13 211.82h.01M171.44 208.86h.01M175.88 209.23h.01M172.41 210.79h.01M148.09 212.05h.01M165.45 215.75h.01M163.59 208.71h.01M188.69 211.5h.01M164.04 211.92h.01M155.57 208.98h.01M158.95 209.54h.01M178.3 208.89h.01M171.67 208.85h.01M163.99 210.52h.01M151.36 212.65h.01M170.14 213.32h.01M180.95 211.71h.01M164.83 207.37h.01M163.81 208.94h.01M170.62 208.93h.01M184.03 208.92h.01M163.49 212.43h.01M167.04 207.05h.01M172.99 209.61h.01M151.71 208.23h.01M173.99 210.85h.01M162.79 215.55h.01M173.08 208.56h.01M170.43 209.8h.01M146.86 215.29h.01M164.34 209.41h.01M158.82 212.56h.01M167.4 214.38h.01M178.42 214.23h.01M165.3 211.04h.01M160.73 209.68h.01M141.96 208.64h.01M153.23 208.47h.01M184.6 210.76h.01M184.73 212.25h.01M180.31 212.62h.01M158.25 212.11h.01M162.34 208.77h.01M184.28 215.52h.01M152.85 214.45h.01M179.01 207.98h.01M170.95 211.03h.01M172.43 209.21h.01M148.42 210.18h.01M179.46 212.07h.01M176.55 212.86h.01M152.67 209.99h.01M171.92 212.6h.01M169.25 211.4h.01M168.93 215.36h.01M140.53 210.44h.01M146.28 208.4h.01M170.25 214.39h.01M173.69 211.77h.01M181.71 210.6h.01M154.62 209.85h.01M171.86 209.41h.01M157.36 209.2h.01M145.31 207.53h.01M165.69 209.2h.01M167.54 213.61h.01M171.33 210.02h.01M150.05 207.4h.01M172.42 207.91h.01M173.2 207.41h.01M168.94 209.92h.01M181.38 209.12h.01M161.63 210.72h.01M167.79 214.33h.01M163.28 208.76h.01M162.39 211.29h.01M170.38 211.83h.01M147.03 216.3h.01M193.56 210.02h.01M149.55 210.49h.01M172.99 204.51h.01M167.2 206.4h.01M173.61 213.56h.01M181.92 206.33h.01M186.94 212.37h.01M161.79 211.36h.01M188.9 209.27h.01M166.77 208.7h.01M183.69 204.71h.01M187.49 207.68h.01M180.37 206.03h.01M153.48 208.6h.01M178.96 206.04h.01M175.7 208.51h.01M184.92 209.32h.01M174.02 209.67h.01M192.88 209.2h.01M166.64 215.06h.01M168.12 211.82h.01M156.36 210.6h.01M157.67 206.34h.01M146.56 212.96h.01M173.16 206.31h.01M193.18 208.36h.01M161.68 210.72h.01M150.59 206.05h.01M156.24 213.06h.01M180.74 206.15h.01M184.38 210.19h.01M174.22 210.23h.01M172.97 207.6h.01M153.88 208.34h.01M161.68 211.65h.01M149.45 214.09h.01M157.87 208.63h.01M177.15 211.19h.01M162.11 207.42h.01M152.56 206.1h.01" stroke="#000" stroke-width="0.8" stroke-linecap="round" opacity="0.3" fill="none"/>
<path d="M147.31 196.57h.01M143.83 200.07h.01M150.1 186.29h.01M184.14 188.56h.01M151.86 201.75h.01M168.85 201.85h.01M159.35 191.99h.01M184.05 192.17h.01M185.5 184.24h.01M178.55 183.56h.01M165.2 179.51h.01M149.72 203.13h.01M162 199.73h.01M153.04 188.31h.01M146.44 193.32h.01M179.94 192.35h.01M158.57 202.72h.01M181.33 196.16h.01M145.34 195.1h.01M161.54 203.45h.01M157.92 196.03h.01M169.8 188.9h.01M164.98 196.41h.01M181.92 191.95h.01M158 203.9h.01M144.51 200.37h.01M172.08 193.44h.01M161.7 198.28h.01M181.21 197.72h.01M174.99 180.38h.01M156.31 182.92h.01M183.93 201.79h.01M148.36 194.19h.01M167.38 180.67h.01M159.26 198.18h.01M170.23 186.52h.01M175.55 186.78h.01M165.95 190.02h.01M185.04 195.72h.01M177.42 196.41h.01M158.74 203.58h.01M173.23 196.77h.01M154.21 183.55h.01M167.31 200.15h.01M176.92 188.18h.01M148.15 192.4h.01M180.61 183.55h.01M174.49 183.77h.01M155.73 180.84h.01M155.1 189.07h.01M184.54 203.55h.01M150.23 187.24h.01M183.52 184.43h.01M156.12 190.46h.01M146.77 186.01h.01M159.33 189.14h.01M184.4 186.17h.01M150.97 202.22h.01M161.81 200.43h.01M170.03 198.97h.01M155.85 183.3h.01M175.31 191.26h.01M166.58 196.27h.01M175.12 186.38h.01M157.96 202.44h.01M165.29 186.71h.01M169.73 185.99h.01M175.94 180.53h.01M178.37 193.66h.01M157.56 203h.01M153.68 185.58h.01M145.07 193.21h.01M175.16 196.45h.01M160.16 199.69h.01M146.9 187.17h.01M170.37 203.68h.01M169.89 196.8h.01M176.08 189.36h.01M183.38 198.06h.01M157.04 189.31h.01M177.45 188.24h.01M150.17 201.29h.01M165.4 192.53h.01M171.45 202.04h.01M147.88 187.97h.01M144.9 189.83h.01M164.09 200.8h.01M171.38 193.95h.01M159.76 193.84h.01M154.05 200.62h.01M176.69 200.46h.01M148.65 196.29h.01M175.18 192.01h.01M181.53 201.97h.01M174.69 200.02h.01M170.55 201.47h.01M147.78 197.1h.01M172.97 194.81h.01M154.1 181.18h.01M168.55 200.11h.01M154.01 184.83h.01M151.85 181.85h.01M171.74 203.87h.01M177.29 188.49h.01M172.78 181.3h.01M178.9 187.63h.01M142.15 195.23h.01M148.11 186.38h.01M144.6 190.64h.01M166.42 199.68h.01M143.74 200.18h.01M146.86 185.11h.01M169.7 188h.01M156.57 193.71h.01M151.59 199.34h.01M151.2 200.49h.01M177.58 192.93h.01M143.34 198.95h.01M143.25 192.12h.01M160.65 181.08h.01M169.72 197.61h.01M167.74 189.5h.01M164.53 194.22h.01M151.96 201.19h.01M185.81 199.6h.01M184.3 187.74h.01M185.4 181.28h.01M163.03 182.84h.01M161.97 196.57h.01M173.17 190.87h.01M157.03 184.25h.01M159.73 186.56h.01M150.55 197.9h.01M164.71 190.47h.01M150.7 197.09h.01M150.66 186.14h.01M166.65 197.03h.01M184.81 198.19h.01M183.73 202.5h.01M173.79 197.49h.01M144.76 184.64h.01M142.57 201.09h.01M173.77 195.25h.01M153.61 188.38h.01M149.2 195.31h.01M185.62 187.14h.01M143.95 183.88h.01M157.63 201.97h.01M177.4 190.88h.01M146.49 182.17h.01M148.77 198.94h.01M162.74 204.26h.01M182.12 199.37h.01M162.95 200.05h.01M147.65 182.22h.01M166.79 192.2h.01M151.21 185.8h.01M142.93 202.22h.01M173.25 203.13h.01M185.14 190.42h.01M174.23 189.1h.01M177.72 200.53h.01M147.89 179.82h.01M151.42 194.13h.01M158.67 179.73h.01M178.53 199.15h.01M162.4 180.58h.01M181.12 192.85h.01M145.12 187.58h.01M169.48 201.63h.01M163.32 195.49h.01M151.05 185.59h.01M181.86 189.07h.01M146.58 194.28h.01M147.55 184.5h.01M162.08 194.14h.01M170 197.17h.01M161.34 181.19h.01M173.88 180.84h.01M162.71 189.51h.01M171.61 197.34h.01M152.55 195.74h.01M172.45 191.29h.01M148.24 202.23h.01M168.36 181.07h.01M152.5 204.17h.01M152.06 189.31h.01M176.67 200.1h.01M169.89 198.04h.01M143.68 181.84h.01M184.95 199.57h.01M143.67 180.72h.01M152.58 202.77h.01M151.66 196.3h.01M182.94 195.47h.01M182.45 186.07h.01M148.75 179.96h.01M175.31 182.1h.01M184.82 197.25h.01M150.23 199.68h.01M149.16 192.3h.01M146.66 199.17h.01M181.15 202.41h.01M142.1 200.79h.01M166.46 200.03h.01M164.11 195h.01M168.16 199.49h.01M145.42 180.86h.01M166 186.77h.01M159.47 179.69h.01M174.78 180.1h.01M178.51 199.79h.01M162.15 182.55h.01M170.6 184.68h.01M160.88 182.26h.01M184.96 193.15h.01M157.51 181.85h.01M174.13 200.74h.01M179.33 182.04h.01M158.17 187.07h.01M175.55 183.2h.01M168.68 203.96h.01M175.83 179.67h.01M145.3 182.34h.01M172.47 194.47h.01M164.89 190.89h.01M159.93 194.78h.01M170.54 202.41h.01M174.24 199.41h.01M182.17 200.43h.01M173.53 180.27h.01M171.96 200.75h.01M160.95 201.45h.01M149.91 203.07h.01M161.44 197.16h.01M153.12 187.01h.01M157.33 187.61h.01M146.17 190.57h.01M185.16 195.85h.01M183.02 198.56h.01M178.82 204.36h.01M175.12 186.35h.01M152.99 189.81h.01M142.92 185.27h.01M181 202.52h.01M156.46 198.76h.01M176.1 201.75h.01M176.96 192.8h.01M146.61 200.14h.01M155.8 195.17h.01M158.15 192.93h.01M184.49 183.53h.01M165.36 195.75h.01M165.69 202.95h.01M159.93 202.34h.01M172.35 203.69h.01M145.94 184.81h.01M154.65 202.16h.01M142.6 186h.01M173.5 204.24h.01M149.76 190.45h.01M172.22 196.77h.01M174.83 198.33h.01M152.93 185.93h.01M143.22 196.78h.01M151.21 185.99h.01M184.43 195.58h.01M168.01 195.9h.01M168.31 196.87h.01M155.37 181.1h.01M144.94 179.86h.01M157.91 183.06h.01M146.97 191.84h.01M184.66 196.69h.01M154.03 198.74h.01M149.83 182h.01M155.34 189.72h.01M172.34 190.62h.01M174.05 181.87h.01M183.02 188.06h.01M178.62 180.27h.01M178.47 185.16h.01M179.62 199.57h.01M171.51 186.44h.01M142.43 184.25h.01M181.82 183.45h.01M171.01 194.17h.01M171.09 184.02h.01M148.32 181.93h.01M185.24 189.08h.01M170.7 193.74h.01M151.82 181.12h.01M142.65 200.81h.01M147.72 203.58h.01M158 197.57h.01M148.09 199.2h.01M153.07 188.66h.01M165.01 182.29h.01M152.92 199.4h.01M154.55 189.02h.01M175.65 185.1h.01M150.53 184.98h.01M158.9 188.63h.01M170.22 191.29h.01M180.27 180.76h.01M171.2 200.41h.01M152.33 180.23h.01M161.29 182.4h.01M162.24 197.29h.01M146.12 182.44h.01M163.1 183.85h.01M152.15 190.51h.01M147.21 181.2h.01M157.89 191.23h.01M183.21 193.37h.01M145.15 185.06h.01M174.75 193.57h.01M180.29 203.56h.01M179.75 182.25h.01M183.52 192.62h.01M152.55 183.77h.01M180.05 184.81h.01M145.66 186.13h.01M182.66 191.02h.01M174.18 181.36h.01M161.93 187.45h.01M151.03 196.07h.01M157.89 182.49h.01M185.3 191.54h.01M149.92 179.77h.01" stroke="#000" stroke-width="0.72" stroke-linecap="round" opacity="0.2" fill="none"/>
<path d="M153.67 190.11h.01M180.71 199.38h.01M162.88 188.09h.01M146.79 190.89h.01M187.21 193.59h.01M172.97 192.02h.01M171.78 195.09h.01M169.05 196.08h.01M164.84 200.12h.01M156.34 199.65h.01M145.54 204.97h.01M156.42 194.14h.01M169.07 193.36h.01M180.57 197.98h.01M178.37 199.11h.01M184.52 198.01h.01M142.11 193.22h.01M171.21 202.52h.01M168.82 201.5h.01M144.4 196.53h.01M167.88 196.21h.01M164.89 202.82h.01M149.86 193.5h.01M148.33 184.51h.01M175.44 196.31h.01M178.35 195.08h.01M166.24 198.91h.01M160.95 204.4h.01M147.86 202.73h.01M179.83 186.2h.01M153.74 190.12h.01M172.34 202h.01M153.12 189.09h.01M174.12 181.75h.01M173.54 196.77h.01M155.42 195.83h.01M159.9 192.25h.01M141.69 196.2h.01M186.09 203.86h.01M151.96 191.64h.01M151.36 185.34h.01M181.01 198.55h.01M153.69 186.69h.01M158.32 193.97h.01M173.86 196.58h.01M172.83 194.58h.01M162.69 190.48h.01M150.74 186.32h.01M171.4 202.08h.01M166.58 204.14h.01M171.91 198.96h.01M150.97 202.65h.01M181.5 202.96h.01M182.4 194.28h.01M155.4 199.91h.01M161.19 198.17h.01M160.01 193.76h.01M167 182.88h.01M150.65 189.16h.01M153.08 178h.01M160.38 203.84h.01M172.84 188.23h.01M181.93 184.78h.01M155.54 195.18h.01M182.48 198.93h.01M162.17 191.69h.01M165.32 198.33h.01M174.84 198.14h.01M166.95 197.87h.01M172.36 197.15h.01M152.5 198.82h.01M169.91 199.13h.01M167.43 200.99h.01M147.52 189.31h.01M162.18 190.75h.01M154.32 198.27h.01M181.35 193.57h.01M172.23 199.46h.01M158.78 190.62h.01M161.77 192.35h.01M171.88 184.23h.01M180.54 203.93h.01M172.84 184.65h.01M164.78 201.52h.01M153.99 189.17h.01M170.34 202h.01M157.77 196.11h.01M156.58 193.57h.01M187.63 200.48h.01M166.25 204.52h.01M149.32 188.56h.01M167.64 204.63h.01M157.91 192.7h.01M169.91 202.79h.01M167.75 183.15h.01M156.04 178.25h.01M167.55 191.38h.01M183.32 201.76h.01M168.03 199.35h.01M155.44 197.6h.01M154.33 199.26h.01M177.03 204.49h.01M149.89 196.99h.01M160.13 188.4h.01M165.13 194.26h.01M177.43 201.37h.01M152.61 198.63h.01M158.8 193.06h.01M157.97 184.66h.01M152.7 204.28h.01M158.81 195.44h.01M143.47 201.13h.01M163.26 200.17h.01M175.58 204.49h.01M154.73 193.4h.01M186.72 203.57h.01M166.09 189.49h.01M176.89 202.11h.01M175.73 200.09h.01M164.91 193.72h.01M168.5 199.9h.01M168.55 193.78h.01M151.83 201.27h.01M172 202.17h.01M171.36 197.3h.01M154.17 193.98h.01M163.21 193.81h.01M158 203.12h.01M172.49 197.73h.01M172.06 192.42h.01M158.74 202.33h.01M176.79 190.07h.01M176.75 195.89h.01M180.09 185.95h.01M154.13 203.29h.01M158.77 200.68h.01M145.96 204.06h.01M183.13 189.27h.01M160.54 184.71h.01M168.42 192.36h.01M155.82 191.5h.01M168.29 194.38h.01M150.82 196.24h.01M169.93 191.35h.01M180.19 185.1h.01M169.94 194.98h.01M186.93 193h.01M154.34 187.57h.01M148.2 195.39h.01M170.09 182.17h.01M164.03 201.68h.01M162.4 199.62h.01M167.1 192.5h.01M169.07 199.29h.01M163.44 192.69h.01M149.22 199.91h.01M176.04 179.21h.01M177.35 192.46h.01M183.71 190.33h.01M157.64 196.32h.01M146.86 196.93h.01M158.82 193.29h.01M154.75 203.78h.01M186.37 194.83h.01M183.57 200.33h.01M142.27 203.24h.01M158.04 199.51h.01M167.41 190.71h.01M167.37 192.67h.01M150.58 201.18h.01M155.37 180.15h.01M167.8 204.47h.01M141.71 197.98h.01M183.25 198h.01M166.68 193.11h.01M180.05 192.58h.01M165.81 181.92h.01M164.86 199.68h.01M156.23 196.36h.01M145.61 187.42h.01M145.92 203h.01M163.31 204.42h.01M148.21 202.61h.01M157.53 198.7h.01M177.67 198.26h.01M158.86 185h.01M164.94 204.13h.01M154.73 197.48h.01M159.45 184.92h.01M158.43 185.76h.01M168.39 196.81h.01M179.23 195.03h.01M168.88 199.57h.01M170.55 186.48h.01M174.44 204.92h.01M164.31 203.32h.01M172.16 204.97h.01M154.61 193.4h.01M169.54 202.78h.01M172.46 200.67h.01M154.2 198.95h.01M156.98 195.56h.01M166.85 200.73h.01M152.21 178.07h.01M152.48 202.27h.01M151.54 201.38h.01M158.55 190.57h.01M162.47 197.6h.01M178.17 187.53h.01M177.33 194.1h.01M152.49 200.77h.01M143.16 194.06h.01M160.56 178.55h.01M172.75 204.04h.01M179.81 186.63h.01M144.96 191.55h.01M149.5 195.52h.01M167.06 201.61h.01M185.54 189.38h.01M177.07 199.18h.01M146.59 199.2h.01M183.34 193.1h.01M150.65 199.04h.01M166.61 191.94h.01M153.8 203.76h.01M152.31 196.44h.01M173.74 198.71h.01M170.51 202.59h.01M174.98 200.22h.01M161.51 185.3h.01M155.01 200.11h.01M163.64 182.18h.01M159 200.33h.01M181.52 188.41h.01M168.94 198.64h.01M166.24 199.18h.01M158.52 187.1h.01M170.79 201.09h.01M145.45 179.32h.01M150.31 201.19h.01M163.77 203.82h.01M161.45 193.23h.01M167.68 202.16h.01M181.19 201.56h.01M162.35 196.1h.01M149.38 193.99h.01M178.94 190.64h.01M156.17 204.86h.01M180.55 192.77h.01M169.82 201.87h.01M168.04 188.62h.01M144.86 204.12h.01M142.08 192.51h.01M154.2 193.38h.01M155.52 202.43h.01M185.88 189.94h.01M170.61 183.58h.01M186.86 197.29h.01M152 198.45h.01M169.52 196.45h.01M186.84 192.29h.01M150.45 193.63h.01M169.86 196.61h.01M165.18 194.33h.01M162.77 201.88h.01M175.18 191.75h.01M162.29 191.91h.01M161.32 186.52h.01M178.32 203.37h.01M162.16 192.53h.01M157.15 192.68h.01M146.5 202.63h.01M173.09 185.41h.01M156.57 198.68h.01M163.95 193.52h.01M161.87 195.6h.01M182.67 197.27h.01M163.52 193.77h.01M154.49 192.11h.01M180.73 199.89h.01M167.11 196.68h.01M147.54 199.99h.01M159.26 185.32h.01M167.21 201.98h.01M167 194.28h.01M159.37 202.1h.01M179.38 194.13h.01M166.54 192.08h.01M173.05 195.05h.01M181.2 191.89h.01M151.4 190.77h.01M173.94 191.15h.01M171.77 186.62h.01M163.64 192.19h.01M149.59 195.28h.01M168.03 201.78h.01M146.82 199.73h.01M156.45 195.47h.01M174.84 192.97h.01M178.47 196.37h.01M151.56 195.96h.01M173.98 198.97h.01M172.73 202.6h.01M150.74 190.52h.01M185.62 194.11h.01M151.5 190.53h.01M178.51 188.95h.01M165.94 198.44h.01M154.38 196.22h.01M156.49 197.81h.01M175.58 187.83h.01M150.23 181.25h.01M186.56 197.4h.01M163.8 197.54h.01M179.07 200.57h.01M176.75 196.66h.01M162.18 197.56h.01M174.06 198.44h.01M150.8 197.31h.01M178.95 196.29h.01M162.18 195.18h.01M184.47 178.26h.01M162.91 202.49h.01M184.94 197.55h.01M158.93 194.1h.01M161.16 187.99h.01M163.74 202.42h.01M168.65 201.81h.01M141.11 190.41h.01M146.83 193.38h.01M147.97 203.22h.01M169.17 198.26h.01M154.25 200.75h.01M164.48 192.05h.01M169 192.68h.01M178.28 203.01h.01M153.69 202.7h.01M165.01 192.35h.01M150.29 184.7h.01M147.04 200.77h.01M182.11 192.97h.01M166.39 200.75h.01M175.71 201.55h.01M182.41 204.13h.01M152.57 201.17h.01M164.31 202.64h.01M159.47 204.66h.01M183.82 191.28h.01M155.85 200.08h.01M171.36 199.15h.01M176.46 188.54h.01M180.65 201.41h.01M160.44 201.2h.01M162.88 185.31h.01M154.92 197.68h.01M156.26 190.54h.01M160.52 195.03h.01M165.04 197.61h.01M166.05 201.25h.01M157.99 203.42h.01M158.91 193.01h.01M156.09 199.96h.01M180.96 202.29h.01M178.34 203.55h.01M154.17 198.38h.01M155.53 189.8h.01M168.5 191.8h.01" stroke="#000" stroke-width="0.72" stroke-linecap="round" opacity="0.2" fill="none"/>
<text x="130.2" y="158.2" font-size="8.2">7.1±3.1</text>
<text x="198.8" y="158.2" font-size="8.2" text-anchor="end">20.1±8.6</text>
<text x="198.8" y="223" font-size="8.2" text-anchor="end">51.3±9.0</text>
<line x1="39.5" y1="235.8" x2="39.5" y2="211.5" stroke="#000" stroke-width="1.5"/>
<path d="M39.5 207.4L37.1 212.8H41.9Z" fill="#000"/>
<line x1="38.8" y1="235.1" x2="62.5" y2="235.1" stroke="#000" stroke-width="1.5"/>
<path d="M66.6 235.1L61.2 232.7V237.5Z" fill="#000"/>
<text transform="translate(36 235) rotate(-90) scale(0.92 1)" font-size="10.6" stroke="#000" stroke-width="0.15">IL-17</text>
<text x="41.2" y="247.1" font-size="10.2" stroke="#000" stroke-width="0.15">IFN-γ</text>
<rect x="251" y="4.4" width="113.4" height="113.6" fill="none" stroke="#000" stroke-width="1.25"/>
<line x1="249.1" y1="4.4" x2="251" y2="4.4" stroke="#000" stroke-width="1.1"/>
<text transform="translate(247.6 8.18) scale(0.96 1)" font-size="9.1" text-anchor="end" stroke="#000" stroke-width="0.2">30</text>
<line x1="249.1" y1="42.2" x2="251" y2="42.2" stroke="#000" stroke-width="1.1"/>
<text transform="translate(247.6 45.98) scale(0.96 1)" font-size="9.1" text-anchor="end" stroke="#000" stroke-width="0.2">20</text>
<line x1="249.1" y1="80.1" x2="251" y2="80.1" stroke="#000" stroke-width="1.1"/>
<text transform="translate(247.6 83.88) scale(0.96 1)" font-size="9.1" text-anchor="end" stroke="#000" stroke-width="0.2">10</text>
<line x1="249.1" y1="118" x2="251" y2="118" stroke="#000" stroke-width="1.1"/>
<text transform="translate(247.6 121.78) scale(0.96 1)" font-size="9.1" text-anchor="end" stroke="#000" stroke-width="0.2">0</text>
<line x1="249.48" y1="23.3" x2="251" y2="23.3" stroke="#000" stroke-width="0.99"/>
<line x1="249.48" y1="61.2" x2="251" y2="61.2" stroke="#000" stroke-width="0.99"/>
<line x1="249.48" y1="99" x2="251" y2="99" stroke="#000" stroke-width="0.99"/>
<text transform="translate(235 67.5) rotate(-90)" font-size="9.5" text-anchor="middle" font-weight="bold">IFN-γ (ng/ml)</text>
<line x1="269" y1="37" x2="269" y2="24.3" stroke="#000" stroke-width="1"/>
<line x1="264" y1="24.3" x2="274" y2="24.3" stroke="#000" stroke-width="1"/>
<rect x="262.25" y="37.55" width="13.5" height="80.45" fill="#fff" stroke="#000" stroke-width="1.15"/>
<line x1="290.2" y1="102.5" x2="290.2" y2="93.8" stroke="#000" stroke-width="1"/>
<line x1="285.2" y1="93.8" x2="295.2" y2="93.8" stroke="#000" stroke-width="1"/>
<rect x="283" y="102.5" width="14.5" height="15.5" fill="#000"/>
<line x1="325.3" y1="69.5" x2="325.3" y2="48.8" stroke="#000" stroke-width="1"/>
<line x1="320.3" y1="48.8" x2="330.3" y2="48.8" stroke="#000" stroke-width="1"/>
<rect x="318.55" y="70.05" width="13.5" height="47.95" fill="#fff" stroke="#000" stroke-width="1.15"/>
<line x1="346.6" y1="88" x2="346.6" y2="75" stroke="#000" stroke-width="1"/>
<line x1="341.6" y1="75" x2="351.6" y2="75" stroke="#000" stroke-width="1"/>
<rect x="339.4" y="88" width="14.5" height="30" fill="#000"/>
<text x="290" y="85.05" font-size="6.4" text-anchor="middle" stroke="#000" stroke-width="0.5" stroke-linejoin="miter" letter-spacing="-0.35" font-family="'DejaVu Sans','Liberation Sans',sans-serif">★★</text>
<text x="346.8" y="69.55" font-size="6.4" text-anchor="middle" stroke="#000" stroke-width="0.5" stroke-linejoin="miter" letter-spacing="-0.35" font-family="'DejaVu Sans','Liberation Sans',sans-serif">★</text>
<rect x="282.55" y="10.85" width="11.9" height="7.35" fill="#fff" stroke="#000" stroke-width="1.15"/>
<rect x="282" y="22.5" width="13" height="7.7" fill="#000"/>
<text transform="translate(297.8 17.7) scale(0.93 1)" font-size="8.8" stroke="#000" stroke-width="0.15">pCCL</text>
<text transform="translate(297.8 29.6) scale(0.93 1)" font-size="8.8" stroke="#000" stroke-width="0.15">pCCL.RORC2</text>
<line x1="400.6" y1="4.7" x2="515.1" y2="4.7" stroke="#000" stroke-width="1.25"/>
<line x1="514.5" y1="4.7" x2="514.5" y2="116.8" stroke="#000" stroke-width="1.25"/>
<line x1="400.6" y1="116.8" x2="515.1" y2="116.8" stroke="#000" stroke-width="1.25"/>
<line x1="401.2" y1="4.7" x2="401.2" y2="85.4" stroke="#000" stroke-width="1.25"/>
<line x1="401.2" y1="89.5" x2="401.2" y2="116.8" stroke="#000" stroke-width="1.25"/>
<line x1="399.2" y1="85.4" x2="402.8" y2="85.4" stroke="#000" stroke-width="1.1"/>
<line x1="399.2" y1="89.5" x2="402.8" y2="89.5" stroke="#000" stroke-width="1.1"/>
<line x1="399.3" y1="4.9" x2="401.2" y2="4.9" stroke="#000" stroke-width="1.1"/>
<text transform="translate(396.9 8.68) scale(0.96 1)" font-size="9.1" text-anchor="end" stroke="#000" stroke-width="0.2">40</text>
<line x1="399.3" y1="31.2" x2="401.2" y2="31.2" stroke="#000" stroke-width="1.1"/>
<text transform="translate(396.9 34.98) scale(0.96 1)" font-size="9.1" text-anchor="end" stroke="#000" stroke-width="0.2">30</text>
<line x1="399.3" y1="57.8" x2="401.2" y2="57.8" stroke="#000" stroke-width="1.1"/>
<text transform="translate(396.9 61.58) scale(0.96 1)" font-size="9.1" text-anchor="end" stroke="#000" stroke-width="0.2">20</text>
<text transform="translate(396.9 85.6) scale(0.96 1)" font-size="9.1" text-anchor="end" stroke="#000" stroke-width="0.2">10</text>
<line x1="399.3" y1="103.3" x2="401.2" y2="103.3" stroke="#000" stroke-width="1.1"/>
<text transform="translate(396.9 107.08) scale(0.96 1)" font-size="9.1" text-anchor="end" stroke="#000" stroke-width="0.2">5</text>
<line x1="399.3" y1="116.6" x2="401.2" y2="116.6" stroke="#000" stroke-width="1.1"/>
<text transform="translate(396.9 120.38) scale(0.96 1)" font-size="9.1" text-anchor="end" stroke="#000" stroke-width="0.2">0</text>
<line x1="399.68" y1="96.4" x2="401.2" y2="96.4" stroke="#000" stroke-width="0.99"/>
<line x1="399.68" y1="109.8" x2="401.2" y2="109.8" stroke="#000" stroke-width="0.99"/>
<text transform="translate(396.9 94.6) scale(0.96 1)" font-size="9.1" text-anchor="end" stroke="#000" stroke-width="0.2">10</text>
<text transform="translate(384.6 57.5) rotate(-90)" font-size="10.5" text-anchor="middle" font-weight="bold">IL-17 (ng/ml)</text>
<line x1="418.7" y1="114.5" x2="418.7" y2="113" stroke="#000" stroke-width="0.8"/>
<line x1="414.7" y1="113" x2="422.7" y2="113" stroke="#000" stroke-width="0.8"/>
<rect x="411.85" y="114.85" width="13.9" height="1.95" fill="#c8c8c8" stroke="#000" stroke-width="1.15"/>
<line x1="440.3" y1="45" x2="440.3" y2="8" stroke="#000" stroke-width="1"/>
<rect x="433" y="45" width="14.6" height="71.8" fill="#000"/>
<line x1="475.2" y1="115.3" x2="475.2" y2="114.2" stroke="#000" stroke-width="0.8"/>
<line x1="471.2" y1="114.2" x2="479.2" y2="114.2" stroke="#000" stroke-width="0.8"/>
<rect x="468.55" y="115.75" width="13.5" height="1.05" fill="#c8c8c8" stroke="#000" stroke-width="1.15"/>
<line x1="497.3" y1="43" x2="497.3" y2="8" stroke="#000" stroke-width="1"/>
<rect x="490" y="43" width="14.6" height="73.8" fill="#000"/>
<rect x="432" y="85.2" width="16.6" height="3.6" fill="#fff"/>
<rect x="489" y="85.2" width="16.6" height="3.6" fill="#fff"/>
<text x="440.5" y="11.05" font-size="6.4" text-anchor="middle" stroke="#000" stroke-width="0.5" stroke-linejoin="miter" letter-spacing="-0.35" font-family="'DejaVu Sans','Liberation Sans',sans-serif">★★</text>
<text x="497.5" y="11.05" font-size="6.4" text-anchor="middle" stroke="#000" stroke-width="0.5" stroke-linejoin="miter" letter-spacing="-0.35" font-family="'DejaVu Sans','Liberation Sans',sans-serif">★★</text>
<rect x="249.6" y="127.8" width="113.6" height="113.3" fill="none" stroke="#000" stroke-width="1.25"/>
<line x1="247.7" y1="127.8" x2="249.6" y2="127.8" stroke="#000" stroke-width="1.1"/>
<text transform="translate(246.2 131.58) scale(0.96 1)" font-size="9.1" text-anchor="end" stroke="#000" stroke-width="0.2">75</text>
<line x1="247.7" y1="156.1" x2="249.6" y2="156.1" stroke="#000" stroke-width="1.1"/>
<text transform="translate(246.2 159.88) scale(0.96 1)" font-size="9.1" text-anchor="end" stroke="#000" stroke-width="0.2">50</text>
<line x1="247.7" y1="184.4" x2="249.6" y2="184.4" stroke="#000" stroke-width="1.1"/>
<text transform="translate(246.2 188.18) scale(0.96 1)" font-size="9.1" text-anchor="end" stroke="#000" stroke-width="0.2">25</text>
<line x1="247.7" y1="212.7" x2="249.6" y2="212.7" stroke="#000" stroke-width="1.1"/>
<line x1="247.7" y1="241" x2="249.6" y2="241" stroke="#000" stroke-width="1.1"/>
<text transform="translate(246.2 244.78) scale(0.96 1)" font-size="9.1" text-anchor="end" stroke="#000" stroke-width="0.2">25</text>
<text transform="translate(246.2 219.2) scale(0.96 1)" font-size="9.1" text-anchor="end" stroke="#000" stroke-width="0.2">0</text>
<text transform="translate(219.2 181.5) rotate(-90)" font-size="9.5" text-anchor="middle" font-weight="bold" font-style="italic" stroke="#000" stroke-width="0.2">IFNG</text>
<text transform="translate(230.1 180.3) rotate(-90)" font-size="9.5" text-anchor="middle" font-weight="bold" stroke="#000" stroke-width="0.2">Relative Enrichment</text>
<line x1="263.6" y1="193.2" x2="263.6" y2="190.5" stroke="#000" stroke-width="1"/>
<line x1="258.6" y1="190.5" x2="268.6" y2="190.5" stroke="#000" stroke-width="1"/>
<line x1="263.6" y1="221.3" x2="263.6" y2="226.3" stroke="#000" stroke-width="1"/>
<line x1="258.6" y1="226.3" x2="268.6" y2="226.3" stroke="#000" stroke-width="1"/>
<rect x="254.75" y="213.25" width="17.7" height="8.05" fill="#fff" stroke="#000" stroke-width="1.15"/>
<rect x="254.2" y="193.2" width="18.8" height="19.5" fill="#000"/>
<line x1="291.9" y1="208" x2="291.9" y2="203" stroke="#000" stroke-width="1"/>
<line x1="286.9" y1="203" x2="296.9" y2="203" stroke="#000" stroke-width="1"/>
<line x1="291.9" y1="217" x2="291.9" y2="220" stroke="#000" stroke-width="1"/>
<line x1="286.9" y1="220" x2="296.9" y2="220" stroke="#000" stroke-width="1"/>
<rect x="283.05" y="213.25" width="17.7" height="3.75" fill="#fff" stroke="#000" stroke-width="1.15"/>
<rect x="282.5" y="208" width="18.8" height="4.7" fill="#000"/>
<line x1="320.2" y1="198" x2="320.2" y2="180.8" stroke="#000" stroke-width="1"/>
<line x1="315.2" y1="180.8" x2="325.2" y2="180.8" stroke="#000" stroke-width="1"/>
<line x1="320.2" y1="225" x2="320.2" y2="230.8" stroke="#000" stroke-width="1"/>
<line x1="315.2" y1="230.8" x2="325.2" y2="230.8" stroke="#000" stroke-width="1"/>
<rect x="311.35" y="213.25" width="17.7" height="11.75" fill="#fff" stroke="#000" stroke-width="1.15"/>
<rect x="310.8" y="198" width="18.8" height="14.7" fill="#000"/>
<line x1="348.7" y1="176.2" x2="348.7" y2="174.2" stroke="#000" stroke-width="1"/>
<line x1="343.7" y1="174.2" x2="353.7" y2="174.2" stroke="#000" stroke-width="1"/>
<line x1="348.7" y1="218" x2="348.7" y2="222.5" stroke="#000" stroke-width="1"/>
<line x1="343.7" y1="222.5" x2="353.7" y2="222.5" stroke="#000" stroke-width="1"/>
<rect x="339.75" y="213.25" width="17.9" height="4.75" fill="#fff" stroke="#000" stroke-width="1.15"/>
<rect x="339.2" y="176.2" width="19" height="36.5" fill="#000"/>
<line x1="249.6" y1="212.7" x2="363.2" y2="212.7" stroke="#000" stroke-width="1.6"/>
<text x="349.3" y="233.05" font-size="6.4" text-anchor="middle" stroke="#000" stroke-width="0.5" stroke-linejoin="miter" letter-spacing="-0.35" font-family="'DejaVu Sans','Liberation Sans',sans-serif">★★</text>
<rect x="255.5" y="134.3" width="13.3" height="6.3" fill="#000"/>
<rect x="256.05" y="148.65" width="12.2" height="6.15" fill="#fff" stroke="#000" stroke-width="1.15"/>
<text transform="translate(271.2 141.4) scale(0.95 1)" font-size="9.9" stroke="#000" stroke-width="0.15">H3K4me3</text>
<text transform="translate(271.2 155.3) scale(0.95 1)" font-size="9.9" stroke="#000" stroke-width="0.15">H3K27me3</text>
<text transform="translate(263 251.8) scale(0.86 1)" font-size="9.3" text-anchor="middle" stroke="#000" stroke-width="0.12">pCCL</text>
<text transform="translate(292 251.8) scale(0.86 1)" font-size="9.3" text-anchor="middle" stroke="#000" stroke-width="0.12">pCCL.</text>
<text transform="translate(292.7 261) scale(0.86 1)" font-size="9.3" text-anchor="middle" stroke="#000" stroke-width="0.12">RORC2</text>
<text transform="translate(322.8 251.8) scale(0.86 1)" font-size="9.3" text-anchor="middle" stroke="#000" stroke-width="0.12">pCCL</text>
<text transform="translate(348.4 251.8) scale(0.86 1)" font-size="9.3" text-anchor="middle" stroke="#000" stroke-width="0.12">pCCL.</text>
<text transform="translate(349.1 261) scale(0.86 1)" font-size="9.3" text-anchor="middle" stroke="#000" stroke-width="0.12">RORC2</text>
<line x1="248.8" y1="266.6" x2="306.3" y2="266.6" stroke="#000" stroke-width="1.5"/>
<line x1="312" y1="266.6" x2="365" y2="266.6" stroke="#000" stroke-width="1.5"/>
<text transform="translate(279.5 276) scale(0.86 1)" font-size="9.3" text-anchor="middle" font-weight="bold" stroke="#000" stroke-width="0.15">Naive</text>
<text transform="translate(340 276) scale(0.86 1)" font-size="9.3" text-anchor="middle" font-weight="bold" stroke="#000" stroke-width="0.15">Th1</text>
<rect x="403" y="127.3" width="113.5" height="113.3" fill="none" stroke="#000" stroke-width="1.25"/>
<line x1="401.1" y1="127.4" x2="403" y2="127.4" stroke="#000" stroke-width="1.1"/>
<text transform="translate(399.6 131.18) scale(0.96 1)" font-size="9.1" text-anchor="end" stroke="#000" stroke-width="0.2">30</text>
<line x1="401.1" y1="150" x2="403" y2="150" stroke="#000" stroke-width="1.1"/>
<text transform="translate(399.6 153.78) scale(0.96 1)" font-size="9.1" text-anchor="end" stroke="#000" stroke-width="0.2">15</text>
<line x1="401.1" y1="172.8" x2="403" y2="172.8" stroke="#000" stroke-width="1.1"/>
<text transform="translate(399.6 176.58) scale(0.96 1)" font-size="9.1" text-anchor="end" stroke="#000" stroke-width="0.2">0</text>
<line x1="401.1" y1="195.5" x2="403" y2="195.5" stroke="#000" stroke-width="1.1"/>
<text transform="translate(399.6 199.28) scale(0.96 1)" font-size="9.1" text-anchor="end" stroke="#000" stroke-width="0.2">15</text>
<line x1="401.1" y1="218" x2="403" y2="218" stroke="#000" stroke-width="1.1"/>
<text transform="translate(399.6 221.78) scale(0.96 1)" font-size="9.1" text-anchor="end" stroke="#000" stroke-width="0.2">30</text>
<line x1="401.1" y1="240.4" x2="403" y2="240.4" stroke="#000" stroke-width="1.1"/>
<text transform="translate(399.6 244.18) scale(0.96 1)" font-size="9.1" text-anchor="end" stroke="#000" stroke-width="0.2">45</text>
<text transform="translate(376.8 181.2) rotate(-90)" font-size="9.5" text-anchor="middle" font-weight="bold" font-style="italic" stroke="#000" stroke-width="0.2">IL17A</text>
<text transform="translate(387 179.5) rotate(-90)" font-size="9.5" text-anchor="middle" font-weight="bold">Relative Enrichment</text>
<line x1="417.75" y1="170.5" x2="417.75" y2="169.3" stroke="#000" stroke-width="1"/>
<line x1="412.75" y1="169.3" x2="422.75" y2="169.3" stroke="#000" stroke-width="1"/>
<line x1="417.75" y1="182.5" x2="417.75" y2="187.5" stroke="#000" stroke-width="1"/>
<line x1="412.75" y1="187.5" x2="422.75" y2="187.5" stroke="#000" stroke-width="1"/>
<rect x="408.55" y="173.55" width="18.4" height="8.95" fill="#fff" stroke="#000" stroke-width="1.15"/>
<rect x="408" y="170.5" width="19.5" height="2.5" fill="#000"/>
<line x1="446" y1="163.2" x2="446" y2="158.8" stroke="#000" stroke-width="1"/>
<line x1="441" y1="158.8" x2="451" y2="158.8" stroke="#000" stroke-width="1"/>
<line x1="446" y1="182.5" x2="446" y2="188.8" stroke="#000" stroke-width="1"/>
<line x1="441" y1="188.8" x2="451" y2="188.8" stroke="#000" stroke-width="1"/>
<rect x="436.75" y="173.55" width="18.5" height="8.95" fill="#fff" stroke="#000" stroke-width="1.15"/>
<rect x="436.2" y="163.2" width="19.6" height="9.8" fill="#000"/>
<line x1="474.65" y1="171.2" x2="474.65" y2="169.5" stroke="#000" stroke-width="1"/>
<line x1="469.65" y1="169.5" x2="479.65" y2="169.5" stroke="#000" stroke-width="1"/>
<line x1="474.65" y1="184.5" x2="474.65" y2="194.2" stroke="#000" stroke-width="1"/>
<line x1="469.65" y1="194.2" x2="479.65" y2="194.2" stroke="#000" stroke-width="1"/>
<rect x="465.55" y="173.55" width="18.2" height="10.95" fill="#fff" stroke="#000" stroke-width="1.15"/>
<rect x="465" y="171.2" width="19.3" height="1.8" fill="#000"/>
<line x1="502.75" y1="160" x2="502.75" y2="157.5" stroke="#000" stroke-width="1"/>
<line x1="497.75" y1="157.5" x2="507.75" y2="157.5" stroke="#000" stroke-width="1"/>
<line x1="502.75" y1="185.5" x2="502.75" y2="196.2" stroke="#000" stroke-width="1"/>
<line x1="497.75" y1="196.2" x2="507.75" y2="196.2" stroke="#000" stroke-width="1"/>
<rect x="493.55" y="173.55" width="18.4" height="11.95" fill="#fff" stroke="#000" stroke-width="1.15"/>
<rect x="493" y="160" width="19.5" height="13" fill="#000"/>
<line x1="403" y1="173" x2="516.5" y2="173" stroke="#000" stroke-width="1.6"/>
<text x="446.2" y="155.55" font-size="6.4" text-anchor="middle" stroke="#000" stroke-width="0.5" stroke-linejoin="miter" letter-spacing="-0.35" font-family="'DejaVu Sans','Liberation Sans',sans-serif">★</text>
<text x="502.5" y="154.35" font-size="6.4" text-anchor="middle" stroke="#000" stroke-width="0.5" stroke-linejoin="miter" letter-spacing="-0.35" font-family="'DejaVu Sans','Liberation Sans',sans-serif">★★</text>
<text transform="translate(416.3 251.5) scale(0.86 1)" font-size="9.3" text-anchor="middle" stroke="#000" stroke-width="0.12">pCCL</text>
<text transform="translate(445.3 251.5) scale(0.86 1)" font-size="9.3" text-anchor="middle" stroke="#000" stroke-width="0.12">pCCL.</text>
<text transform="translate(446 261) scale(0.86 1)" font-size="9.3" text-anchor="middle" stroke="#000" stroke-width="0.12">RORC2</text>
<text transform="translate(475.2 251.5) scale(0.86 1)" font-size="9.3" text-anchor="middle" stroke="#000" stroke-width="0.12">pCCL</text>
<text transform="translate(501.8 251.5) scale(0.86 1)" font-size="9.3" text-anchor="middle" stroke="#000" stroke-width="0.12">pCCL.</text>
<text transform="translate(502.5 261) scale(0.86 1)" font-size="9.3" text-anchor="middle" stroke="#000" stroke-width="0.12">RORC2</text>
<line x1="402.5" y1="266.6" x2="459.5" y2="266.6" stroke="#000" stroke-width="1.5"/>
<line x1="465.5" y1="266.6" x2="517.5" y2="266.6" stroke="#000" stroke-width="1.5"/>
<text transform="translate(433 276.3) scale(0.86 1)" font-size="9.3" text-anchor="middle" font-weight="bold" stroke="#000" stroke-width="0.15">Naive</text>
<text transform="translate(493 276.3) scale(0.86 1)" font-size="9.3" text-anchor="middle" font-weight="bold" stroke="#000" stroke-width="0.15">Th1</text>
<text x="144.5" y="303.8" font-size="11.5" text-anchor="middle" font-weight="bold" font-style="italic">IFNG</text>
<text transform="translate(147.3 316.9) scale(0.9 1)" font-size="8.8" text-anchor="middle" stroke="#000" stroke-width="0.1">CpG #</text>
<line x1="94.3" y1="321.2" x2="201.8" y2="321.2" stroke="#000" stroke-width="1.5"/>
<text transform="translate(105.7 330.6) scale(0.9 1)" font-size="8.8" text-anchor="middle" stroke="#000" stroke-width="0.15">1</text>
<text transform="translate(128 330.6) scale(0.9 1)" font-size="8.8" text-anchor="middle" stroke="#000" stroke-width="0.15">2</text>
<text transform="translate(150 330.6) scale(0.9 1)" font-size="8.8" text-anchor="middle" stroke="#000" stroke-width="0.15">3</text>
<text transform="translate(171.3 330.6) scale(0.9 1)" font-size="8.8" text-anchor="middle" stroke="#000" stroke-width="0.15">4</text>
<text transform="translate(191.8 330.6) scale(0.9 1)" font-size="8.8" text-anchor="middle" stroke="#000" stroke-width="0.15">5</text>
<rect x="95.15" y="340" width="21.23" height="21.05" fill="#9a9a9a" stroke="#1a1a1a" stroke-width="0.9"/>
<rect x="116.38" y="340" width="21.23" height="21.05" fill="#ffffff" stroke="#1a1a1a" stroke-width="0.9"/>
<rect x="137.61" y="340" width="21.23" height="21.05" fill="#9a9a9a" stroke="#1a1a1a" stroke-width="0.9"/>
<rect x="158.84" y="340" width="21.23" height="21.05" fill="#c1c1c1" stroke="#1a1a1a" stroke-width="0.9"/>
<rect x="180.07" y="340" width="21.23" height="21.05" fill="#c1c1c1" stroke="#1a1a1a" stroke-width="0.9"/>
<rect x="95.15" y="361.05" width="21.23" height="21.05" fill="#464646" stroke="#1a1a1a" stroke-width="0.9"/>
<rect x="116.38" y="361.05" width="21.23" height="21.05" fill="#c1c1c1" stroke="#1a1a1a" stroke-width="0.9"/>
<rect x="137.61" y="361.05" width="21.23" height="21.05" fill="#464646" stroke="#1a1a1a" stroke-width="0.9"/>
<rect x="158.84" y="361.05" width="21.23" height="21.05" fill="#9a9a9a" stroke="#1a1a1a" stroke-width="0.9"/>
<rect x="180.07" y="361.05" width="21.23" height="21.05" fill="#9a9a9a" stroke="#1a1a1a" stroke-width="0.9"/>
<rect x="95.15" y="382.1" width="21.23" height="21.05" fill="#c1c1c1" stroke="#1a1a1a" stroke-width="0.9"/>
<rect x="116.38" y="382.1" width="21.23" height="21.05" fill="#ffffff" stroke="#1a1a1a" stroke-width="0.9"/>
<rect x="137.61" y="382.1" width="21.23" height="21.05" fill="#ffffff" stroke="#1a1a1a" stroke-width="0.9"/>
<rect x="158.84" y="382.1" width="21.23" height="21.05" fill="#ffffff" stroke="#1a1a1a" stroke-width="0.9"/>
<rect x="180.07" y="382.1" width="21.23" height="21.05" fill="#ffffff" stroke="#1a1a1a" stroke-width="0.9"/>
<rect x="95.15" y="403.15" width="21.23" height="21.05" fill="#ffffff" stroke="#1a1a1a" stroke-width="0.9"/>
<rect x="116.38" y="403.15" width="21.23" height="21.05" fill="#ffffff" stroke="#1a1a1a" stroke-width="0.9"/>
<rect x="137.61" y="403.15" width="21.23" height="21.05" fill="#ffffff" stroke="#1a1a1a" stroke-width="0.9"/>
<rect x="158.84" y="403.15" width="21.23" height="21.05" fill="#ffffff" stroke="#1a1a1a" stroke-width="0.9"/>
<rect x="180.07" y="403.15" width="21.23" height="21.05" fill="#ffffff" stroke="#1a1a1a" stroke-width="0.9"/>
<text transform="translate(75.2 350.5) scale(0.92 1)" font-size="10.2" text-anchor="middle" stroke="#000" stroke-width="0.15">pCCL</text>
<text transform="translate(75.2 366) scale(0.92 1)" font-size="10.2" text-anchor="middle" stroke="#000" stroke-width="0.15">pCCL.</text>
<text transform="translate(75 376) scale(0.92 1)" font-size="10.2" text-anchor="middle" stroke="#000" stroke-width="0.15">RORC2</text>
<text transform="translate(75.2 393) scale(0.92 1)" font-size="10.2" text-anchor="middle" stroke="#000" stroke-width="0.15">pCCL</text>
<text transform="translate(75.2 410) scale(0.92 1)" font-size="10.2" text-anchor="middle" stroke="#000" stroke-width="0.15">pCCL.</text>
<text transform="translate(75 420) scale(0.92 1)" font-size="10.2" text-anchor="middle" stroke="#000" stroke-width="0.15">RORC2</text>
<text transform="translate(21.2 360.2) scale(0.92 1)" font-size="10.2" font-weight="bold" stroke="#000" stroke-width="0.2">Naive</text>
<text transform="translate(29.5 407.7) scale(0.92 1)" font-size="10.2" font-weight="bold" stroke="#000" stroke-width="0.2">Th1</text>
<line x1="50" y1="343.8" x2="50" y2="377" stroke="#000" stroke-width="1.6"/>
<line x1="50" y1="387" x2="50" y2="421" stroke="#000" stroke-width="1.6"/>
<text x="318.2" y="303.8" font-size="11.5" text-anchor="middle" font-weight="bold" font-style="italic">IL17A</text>
<text transform="translate(320.6 317.6) scale(0.9 1)" font-size="8.8" text-anchor="middle" stroke="#000" stroke-width="0.1">CpG #</text>
<line x1="224.2" y1="321.9" x2="417.6" y2="321.9" stroke="#000" stroke-width="1.5"/>
<text transform="translate(234.7 332.3) scale(0.9 1)" font-size="8.8" text-anchor="middle" stroke="#000" stroke-width="0.15">1</text>
<text transform="translate(257.5 332.3) scale(0.9 1)" font-size="8.8" text-anchor="middle" stroke="#000" stroke-width="0.15">2</text>
<text transform="translate(278.8 332.3) scale(0.9 1)" font-size="8.8" text-anchor="middle" stroke="#000" stroke-width="0.15">3</text>
<text transform="translate(300.5 332.3) scale(0.9 1)" font-size="8.8" text-anchor="middle" stroke="#000" stroke-width="0.15">4</text>
<text transform="translate(321 332.3) scale(0.9 1)" font-size="8.8" text-anchor="middle" stroke="#000" stroke-width="0.15">5</text>
<text transform="translate(342 332.3) scale(0.9 1)" font-size="8.8" text-anchor="middle" stroke="#000" stroke-width="0.15">6</text>
<text transform="translate(362.5 332.3) scale(0.9 1)" font-size="8.8" text-anchor="middle" stroke="#000" stroke-width="0.15">7</text>
<text transform="translate(385 332.3) scale(0.9 1)" font-size="8.8" text-anchor="middle" stroke="#000" stroke-width="0.15">8</text>
<text transform="translate(406.3 332.3) scale(0.9 1)" font-size="8.8" text-anchor="middle" stroke="#000" stroke-width="0.15">9</text>
<rect x="226.2" y="340" width="21.26" height="21.05" fill="#181818" stroke="#1a1a1a" stroke-width="0.9"/>
<rect x="247.46" y="340" width="21.26" height="21.05" fill="#181818" stroke="#1a1a1a" stroke-width="0.9"/>
<rect x="268.72" y="340" width="21.26" height="21.05" fill="#181818" stroke="#1a1a1a" stroke-width="0.9"/>
<rect x="289.98" y="340" width="21.26" height="21.05" fill="#181818" stroke="#1a1a1a" stroke-width="0.9"/>
<rect x="311.24" y="340" width="21.26" height="21.05" fill="#181818" stroke="#1a1a1a" stroke-width="0.9"/>
<rect x="332.5" y="340" width="21.26" height="21.05" fill="#9a9a9a" stroke="#1a1a1a" stroke-width="0.9"/>
<rect x="353.76" y="340" width="21.26" height="21.05" fill="#9a9a9a" stroke="#1a1a1a" stroke-width="0.9"/>
<rect x="375.02" y="340" width="21.26" height="21.05" fill="#c1c1c1" stroke="#1a1a1a" stroke-width="0.9"/>
<rect x="396.28" y="340" width="21.26" height="21.05" fill="#9a9a9a" stroke="#1a1a1a" stroke-width="0.9"/>
<rect x="226.2" y="361.05" width="21.26" height="21.05" fill="#181818" stroke="#1a1a1a" stroke-width="0.9"/>
<rect x="247.46" y="361.05" width="21.26" height="21.05" fill="#181818" stroke="#1a1a1a" stroke-width="0.9"/>
<rect x="268.72" y="361.05" width="21.26" height="21.05" fill="#181818" stroke="#1a1a1a" stroke-width="0.9"/>
<rect x="289.98" y="361.05" width="21.26" height="21.05" fill="#181818" stroke="#1a1a1a" stroke-width="0.9"/>
<rect x="311.24" y="361.05" width="21.26" height="21.05" fill="#9a9a9a" stroke="#1a1a1a" stroke-width="0.9"/>
<rect x="332.5" y="361.05" width="21.26" height="21.05" fill="#c1c1c1" stroke="#1a1a1a" stroke-width="0.9"/>
<rect x="353.76" y="361.05" width="21.26" height="21.05" fill="#9a9a9a" stroke="#1a1a1a" stroke-width="0.9"/>
<rect x="375.02" y="361.05" width="21.26" height="21.05" fill="#9a9a9a" stroke="#1a1a1a" stroke-width="0.9"/>
<rect x="396.28" y="361.05" width="21.26" height="21.05" fill="#ffffff" stroke="#1a1a1a" stroke-width="0.9"/>
<rect x="226.2" y="382.1" width="21.26" height="21.05" fill="#181818" stroke="#1a1a1a" stroke-width="0.9"/>
<rect x="247.46" y="382.1" width="21.26" height="21.05" fill="#181818" stroke="#1a1a1a" stroke-width="0.9"/>
<rect x="268.72" y="382.1" width="21.26" height="21.05" fill="#181818" stroke="#1a1a1a" stroke-width="0.9"/>
<rect x="289.98" y="382.1" width="21.26" height="21.05" fill="#181818" stroke="#1a1a1a" stroke-width="0.9"/>
<rect x="311.24" y="382.1" width="21.26" height="21.05" fill="#181818" stroke="#1a1a1a" stroke-width="0.9"/>
<rect x="332.5" y="382.1" width="21.26" height="21.05" fill="#c1c1c1" stroke="#1a1a1a" stroke-width="0.9"/>
<rect x="353.76" y="382.1" width="21.26" height="21.05" fill="#464646" stroke="#1a1a1a" stroke-width="0.9"/>
<rect x="375.02" y="382.1" width="21.26" height="21.05" fill="#9a9a9a" stroke="#1a1a1a" stroke-width="0.9"/>
<rect x="396.28" y="382.1" width="21.26" height="21.05" fill="#ffffff" stroke="#1a1a1a" stroke-width="0.9"/>
<rect x="226.2" y="403.15" width="21.26" height="21.05" fill="#181818" stroke="#1a1a1a" stroke-width="0.9"/>
<rect x="247.46" y="403.15" width="21.26" height="21.05" fill="#181818" stroke="#1a1a1a" stroke-width="0.9"/>
<rect x="268.72" y="403.15" width="21.26" height="21.05" fill="#181818" stroke="#1a1a1a" stroke-width="0.9"/>
<rect x="289.98" y="403.15" width="21.26" height="21.05" fill="#181818" stroke="#1a1a1a" stroke-width="0.9"/>
<rect x="311.24" y="403.15" width="21.26" height="21.05" fill="#181818" stroke="#1a1a1a" stroke-width="0.9"/>
<rect x="332.5" y="403.15" width="21.26" height="21.05" fill="#c1c1c1" stroke="#1a1a1a" stroke-width="0.9"/>
<rect x="353.76" y="403.15" width="21.26" height="21.05" fill="#464646" stroke="#1a1a1a" stroke-width="0.9"/>
<rect x="375.02" y="403.15" width="21.26" height="21.05" fill="#c1c1c1" stroke="#1a1a1a" stroke-width="0.9"/>
<rect x="396.28" y="403.15" width="21.26" height="21.05" fill="#c1c1c1" stroke="#1a1a1a" stroke-width="0.9"/>
<rect x="226.2" y="340" width="106.3" height="84.2" fill="#181818"/>
<rect x="311.24" y="361.05" width="21.26" height="21.05" fill="#9a9a9a" stroke="#1a1a1a" stroke-width="0.9"/>
<rect x="440.3" y="345.8" width="9" height="9" fill="#181818" stroke="#1a1a1a" stroke-width="1"/>
<text transform="translate(453.8 353.1) scale(0.92 1)" font-size="8.8" stroke="#000" stroke-width="0.1">80-100%</text>
<rect x="440.3" y="360.25" width="9" height="9" fill="#464646" stroke="#1a1a1a" stroke-width="1"/>
<text transform="translate(453.8 367.55) scale(0.92 1)" font-size="8.8" stroke="#000" stroke-width="0.1">60-79%</text>
<rect x="440.3" y="374.7" width="9" height="9" fill="#9a9a9a" stroke="#1a1a1a" stroke-width="1"/>
<text transform="translate(453.8 382) scale(0.92 1)" font-size="8.8" stroke="#000" stroke-width="0.1">40-59%</text>
<rect x="440.3" y="389.15" width="9" height="9" fill="#c1c1c1" stroke="#1a1a1a" stroke-width="1"/>
<text transform="translate(453.8 396.45) scale(0.92 1)" font-size="8.8" stroke="#000" stroke-width="0.1">20-39%</text>
<rect x="440.3" y="403.6" width="9" height="9" fill="#ffffff" stroke="#1a1a1a" stroke-width="1"/>
<text transform="translate(453.8 410.9) scale(0.92 1)" font-size="8.8" stroke="#000" stroke-width="0.1">0-19%</text>
<rect x="49" y="454.4" width="114.3" height="113.7" fill="none" stroke="#000" stroke-width="1.25"/>
<line x1="47" y1="454.5" x2="49" y2="454.5" stroke="#000" stroke-width="0.9"/>
<text x="44.3" y="457.6" font-size="8.6" text-anchor="end" stroke="#000" stroke-width="0.12">1.6</text>
<line x1="47" y1="482.6" x2="49" y2="482.6" stroke="#000" stroke-width="0.9"/>
<text x="44.3" y="485.7" font-size="8.6" text-anchor="end" stroke="#000" stroke-width="0.12">1.2</text>
<line x1="47" y1="511" x2="49" y2="511" stroke="#000" stroke-width="0.9"/>
<text x="44.3" y="514.1" font-size="8.6" text-anchor="end" stroke="#000" stroke-width="0.12">0.8</text>
<line x1="47" y1="539.6" x2="49" y2="539.6" stroke="#000" stroke-width="0.9"/>
<text x="44.3" y="542.7" font-size="8.6" text-anchor="end" stroke="#000" stroke-width="0.12">0.4</text>
<line x1="47" y1="568.1" x2="49" y2="568.1" stroke="#000" stroke-width="0.9"/>
<text x="44.3" y="571.2" font-size="8.6" text-anchor="end" stroke="#000" stroke-width="0.12">0.0</text>
<text transform="translate(26.3 507.5) rotate(-90)" font-size="10.3" text-anchor="middle" font-weight="bold" font-style="italic" stroke="#000" stroke-width="0.2">TBX21 /SDHA</text>
<line x1="63.5" y1="496.2" x2="63.5" y2="479.2" stroke="#000" stroke-width="1"/>
<line x1="58.75" y1="479.2" x2="68.25" y2="479.2" stroke="#000" stroke-width="1"/>
<rect x="53.8" y="496.2" width="19.5" height="71.9" fill="#000"/>
<line x1="91.7" y1="540.5" x2="91.7" y2="538.2" stroke="#000" stroke-width="1"/>
<line x1="86.95" y1="538.2" x2="96.45" y2="538.2" stroke="#000" stroke-width="1"/>
<rect x="82" y="540.5" width="19.3" height="27.6" fill="#000"/>
<line x1="120.5" y1="496.2" x2="120.5" y2="469.2" stroke="#000" stroke-width="1"/>
<line x1="115.75" y1="469.2" x2="125.25" y2="469.2" stroke="#000" stroke-width="1"/>
<rect x="111" y="496.2" width="19" height="71.9" fill="#000"/>
<line x1="149" y1="521.8" x2="149" y2="514.5" stroke="#000" stroke-width="1"/>
<line x1="144.25" y1="514.5" x2="153.75" y2="514.5" stroke="#000" stroke-width="1"/>
<rect x="139.3" y="521.8" width="19.5" height="46.3" fill="#000"/>
<text x="92.3" y="533.05" font-size="6.4" text-anchor="middle" stroke="#000" stroke-width="0.5" stroke-linejoin="miter" letter-spacing="-0.35" font-family="'DejaVu Sans','Liberation Sans',sans-serif">★</text>
<text x="149.5" y="508.35" font-size="6.4" text-anchor="middle" stroke="#000" stroke-width="0.5" stroke-linejoin="miter" letter-spacing="-0.35" font-family="'DejaVu Sans','Liberation Sans',sans-serif">★</text>
<line x1="63.5" y1="568.1" x2="63.5" y2="570.3" stroke="#000" stroke-width="0.9"/>
<line x1="91.7" y1="568.1" x2="91.7" y2="570.3" stroke="#000" stroke-width="0.9"/>
<line x1="120.5" y1="568.1" x2="120.5" y2="570.3" stroke="#000" stroke-width="0.9"/>
<line x1="149" y1="568.1" x2="149" y2="570.3" stroke="#000" stroke-width="0.9"/>
<rect x="216.2" y="457" width="114.6" height="113.6" fill="none" stroke="#000" stroke-width="1.25"/>
<line x1="214.2" y1="457" x2="216.2" y2="457" stroke="#000" stroke-width="0.9"/>
<text x="211.5" y="460.9" font-size="8.6" text-anchor="end" stroke="#000" stroke-width="0.12">0.15</text>
<line x1="214.2" y1="494.9" x2="216.2" y2="494.9" stroke="#000" stroke-width="0.9"/>
<text x="211.5" y="498.8" font-size="8.6" text-anchor="end" stroke="#000" stroke-width="0.12">0.10</text>
<line x1="214.2" y1="532.8" x2="216.2" y2="532.8" stroke="#000" stroke-width="0.9"/>
<text x="211.5" y="536.7" font-size="8.6" text-anchor="end" stroke="#000" stroke-width="0.12">0.05</text>
<line x1="214.2" y1="570.6" x2="216.2" y2="570.6" stroke="#000" stroke-width="0.9"/>
<text x="211.5" y="574.5" font-size="8.6" text-anchor="end" stroke="#000" stroke-width="0.12">0.00</text>
<line x1="214.6" y1="476" x2="216.2" y2="476" stroke="#000" stroke-width="0.81"/>
<line x1="214.6" y1="513.8" x2="216.2" y2="513.8" stroke="#000" stroke-width="0.81"/>
<line x1="214.6" y1="551.7" x2="216.2" y2="551.7" stroke="#000" stroke-width="0.81"/>
<text transform="translate(192 510.5) rotate(-90)" font-size="10.3" text-anchor="middle" font-weight="bold" font-style="italic" stroke="#000" stroke-width="0.2">RORAd/SDHA</text>
<line x1="231" y1="558.8" x2="231" y2="556.2" stroke="#000" stroke-width="1"/>
<line x1="226.25" y1="556.2" x2="235.75" y2="556.2" stroke="#000" stroke-width="1"/>
<rect x="221.3" y="558.8" width="19.5" height="11.8" fill="#000"/>
<line x1="259.6" y1="495.5" x2="259.6" y2="475.8" stroke="#000" stroke-width="1"/>
<line x1="254.85" y1="475.8" x2="264.35" y2="475.8" stroke="#000" stroke-width="1"/>
<rect x="250" y="495.5" width="19.3" height="75.1" fill="#000"/>
<line x1="288" y1="558.8" x2="288" y2="557.8" stroke="#000" stroke-width="1"/>
<line x1="283.25" y1="557.8" x2="292.75" y2="557.8" stroke="#000" stroke-width="1"/>
<rect x="278.3" y="558.8" width="19.2" height="11.8" fill="#000"/>
<line x1="316.5" y1="519.3" x2="316.5" y2="511.8" stroke="#000" stroke-width="1"/>
<line x1="311.75" y1="511.8" x2="321.25" y2="511.8" stroke="#000" stroke-width="1"/>
<rect x="306.7" y="519.3" width="19.6" height="51.3" fill="#000"/>
<text x="258.8" y="471.35" font-size="6.4" text-anchor="middle" stroke="#000" stroke-width="0.5" stroke-linejoin="miter" letter-spacing="-0.35" font-family="'DejaVu Sans','Liberation Sans',sans-serif">★★★</text>
<text x="316.8" y="509.35" font-size="6.4" text-anchor="middle" stroke="#000" stroke-width="0.5" stroke-linejoin="miter" letter-spacing="-0.35" font-family="'DejaVu Sans','Liberation Sans',sans-serif">★★★</text>
<line x1="231" y1="570.6" x2="231" y2="572.8" stroke="#000" stroke-width="0.9"/>
<line x1="259.6" y1="570.6" x2="259.6" y2="572.8" stroke="#000" stroke-width="0.9"/>
<line x1="288" y1="570.6" x2="288" y2="572.8" stroke="#000" stroke-width="0.9"/>
<line x1="316.5" y1="570.6" x2="316.5" y2="572.8" stroke="#000" stroke-width="0.9"/>
<rect x="376.4" y="457.5" width="114" height="113.7" fill="none" stroke="#000" stroke-width="1.25"/>
<line x1="374.8" y1="457.5" x2="376.4" y2="457.5" stroke="#000" stroke-width="0.9"/>
<line x1="374.8" y1="485.8" x2="376.4" y2="485.8" stroke="#000" stroke-width="0.9"/>
<line x1="374.8" y1="514.2" x2="376.4" y2="514.2" stroke="#000" stroke-width="0.9"/>
<line x1="374.8" y1="542.5" x2="376.4" y2="542.5" stroke="#000" stroke-width="0.9"/>
<line x1="374.8" y1="570.8" x2="376.4" y2="570.8" stroke="#000" stroke-width="0.9"/>
<text x="372" y="460.9" font-size="8.6" text-anchor="end" stroke="#000" stroke-width="0.12">8</text>
<text x="372" y="486.4" font-size="8.6" text-anchor="end" stroke="#000" stroke-width="0.12">6</text>
<text x="372" y="519.4" font-size="8.6" text-anchor="end" stroke="#000" stroke-width="0.12">4</text>
<text x="372" y="549.4" font-size="8.6" text-anchor="end" stroke="#000" stroke-width="0.12">2</text>
<text x="372" y="574.7" font-size="8.6" text-anchor="end" stroke="#000" stroke-width="0.12">0</text>
<text transform="translate(360 517) rotate(-90)" font-size="10.3" text-anchor="middle" font-weight="bold" font-style="italic" stroke="#000" stroke-width="0.2">RORC /SDHA</text>
<line x1="419.6" y1="493" x2="419.6" y2="479.2" stroke="#000" stroke-width="1"/>
<line x1="414.85" y1="479.2" x2="424.35" y2="479.2" stroke="#000" stroke-width="1"/>
<rect x="410" y="493" width="19.3" height="78.2" fill="#000"/>
<line x1="476.6" y1="517.5" x2="476.6" y2="511.8" stroke="#000" stroke-width="1"/>
<line x1="471.85" y1="511.8" x2="481.35" y2="511.8" stroke="#000" stroke-width="1"/>
<rect x="467" y="517.5" width="19.3" height="53.7" fill="#000"/>
<text x="420" y="473.35" font-size="6.4" text-anchor="middle" stroke="#000" stroke-width="0.5" stroke-linejoin="miter" letter-spacing="-0.35" font-family="'DejaVu Sans','Liberation Sans',sans-serif">★★★</text>
<text x="476.3" y="507.05" font-size="6.4" text-anchor="middle" stroke="#000" stroke-width="0.5" stroke-linejoin="miter" letter-spacing="-0.35" font-family="'DejaVu Sans','Liberation Sans',sans-serif">★★★</text>
<line x1="391" y1="571.2" x2="391" y2="573.4" stroke="#000" stroke-width="0.9"/>
<line x1="419.6" y1="571.2" x2="419.6" y2="573.4" stroke="#000" stroke-width="0.9"/>
<line x1="448" y1="571.2" x2="448" y2="573.4" stroke="#000" stroke-width="0.9"/>
<line x1="476.6" y1="571.2" x2="476.6" y2="573.4" stroke="#000" stroke-width="0.9"/>
<rect x="49.2" y="580.7" width="114.2" height="113.6" fill="none" stroke="#000" stroke-width="1.25"/>
<line x1="47.2" y1="581.3" x2="49.2" y2="581.3" stroke="#000" stroke-width="0.9"/>
<text x="44.5" y="585.2" font-size="8.6" text-anchor="end" stroke="#000" stroke-width="0.12">60</text>
<line x1="47.2" y1="600" x2="49.2" y2="600" stroke="#000" stroke-width="0.9"/>
<text x="44.5" y="603.9" font-size="8.6" text-anchor="end" stroke="#000" stroke-width="0.12">45</text>
<line x1="47.2" y1="618.8" x2="49.2" y2="618.8" stroke="#000" stroke-width="0.9"/>
<text x="44.5" y="622.7" font-size="8.6" text-anchor="end" stroke="#000" stroke-width="0.12">30</text>
<line x1="47.2" y1="637.5" x2="49.2" y2="637.5" stroke="#000" stroke-width="0.9"/>
<text x="44.5" y="641.4" font-size="8.6" text-anchor="end" stroke="#000" stroke-width="0.12">15</text>
<line x1="47.2" y1="656.3" x2="49.2" y2="656.3" stroke="#000" stroke-width="0.9"/>
<text x="44.5" y="660.2" font-size="8.6" text-anchor="end" stroke="#000" stroke-width="0.12">0</text>
<line x1="47.2" y1="675.3" x2="49.2" y2="675.3" stroke="#000" stroke-width="0.9"/>
<text x="44.5" y="679.2" font-size="8.6" text-anchor="end" stroke="#000" stroke-width="0.12">15</text>
<line x1="47.2" y1="694.3" x2="49.2" y2="694.3" stroke="#000" stroke-width="0.9"/>
<text x="44.5" y="698.2" font-size="8.6" text-anchor="end" stroke="#000" stroke-width="0.12">30</text>
<text transform="translate(14.2 641) rotate(-90)" font-size="11" text-anchor="middle" font-weight="bold" font-style="italic" stroke="#000" stroke-width="0.2">TBX21</text>
<text transform="translate(25.6 641) rotate(-90)" font-size="10.5" text-anchor="middle" font-weight="bold" stroke="#000" stroke-width="0.15">Relative Enrichment</text>
<line x1="63.55" y1="625" x2="63.55" y2="616.8" stroke="#000" stroke-width="1"/>
<line x1="58.55" y1="616.8" x2="68.55" y2="616.8" stroke="#000" stroke-width="1"/>
<rect x="54.35" y="656.85" width="18.4" height="0.45" fill="#fff" stroke="#000" stroke-width="1.15"/>
<rect x="53.8" y="625" width="19.5" height="31.3" fill="#000"/>
<line x1="91.9" y1="629.2" x2="91.9" y2="624.5" stroke="#000" stroke-width="1"/>
<line x1="86.9" y1="624.5" x2="96.9" y2="624.5" stroke="#000" stroke-width="1"/>
<rect x="82.55" y="656.85" width="18.7" height="1.95" fill="#fff" stroke="#000" stroke-width="1.15"/>
<rect x="82" y="629.2" width="19.8" height="27.1" fill="#000"/>
<line x1="120.4" y1="627.5" x2="120.4" y2="620.8" stroke="#000" stroke-width="1"/>
<line x1="115.4" y1="620.8" x2="125.4" y2="620.8" stroke="#000" stroke-width="1"/>
<rect x="111.35" y="656.85" width="18.1" height="0.45" fill="#fff" stroke="#000" stroke-width="1.15"/>
<rect x="110.8" y="627.5" width="19.2" height="28.8" fill="#000"/>
<line x1="149.05" y1="614.2" x2="149.05" y2="594.5" stroke="#000" stroke-width="1"/>
<line x1="144.05" y1="594.5" x2="154.05" y2="594.5" stroke="#000" stroke-width="1"/>
<rect x="139.85" y="656.85" width="18.4" height="0.45" fill="#fff" stroke="#000" stroke-width="1.15"/>
<rect x="139.3" y="614.2" width="19.5" height="42.1" fill="#000"/>
<line x1="49.2" y1="656.3" x2="163.4" y2="656.3" stroke="#000" stroke-width="1.4"/>
<rect x="53.2" y="587.5" width="8.6" height="6.3" fill="#000"/>
<rect x="53.75" y="599.25" width="7.5" height="5.85" fill="#fff" stroke="#000" stroke-width="1.15"/>
<text x="68.8" y="593.4" font-size="9.45" stroke="#000" stroke-width="0.15">H3K4me3</text>
<text x="68.8" y="605.1" font-size="9.45" stroke="#000" stroke-width="0.15">H3K27me3</text>
<text transform="translate(61.8 707.5) scale(0.86 1)" font-size="9.3" text-anchor="middle" stroke="#000" stroke-width="0.12">pCCL</text>
<text transform="translate(88.5 707.5) scale(0.86 1)" font-size="9.3" text-anchor="middle" stroke="#000" stroke-width="0.12">pCCL.</text>
<text transform="translate(89.2 717.5) scale(0.86 1)" font-size="9.3" text-anchor="middle" stroke="#000" stroke-width="0.12">RORC2</text>
<text transform="translate(120 707.5) scale(0.86 1)" font-size="9.3" text-anchor="middle" stroke="#000" stroke-width="0.12">pCCL</text>
<text transform="translate(147.2 707.5) scale(0.86 1)" font-size="9.3" text-anchor="middle" stroke="#000" stroke-width="0.12">pCCL.</text>
<text transform="translate(147.9 717.5) scale(0.86 1)" font-size="9.3" text-anchor="middle" stroke="#000" stroke-width="0.12">RORC2</text>
<line x1="49.2" y1="722.5" x2="103.8" y2="722.5" stroke="#000" stroke-width="1.5"/>
<line x1="109.5" y1="722.5" x2="163.8" y2="722.5" stroke="#000" stroke-width="1.5"/>
<text transform="translate(76.8 732.5) scale(0.86 1)" font-size="9.3" text-anchor="middle" font-weight="bold" stroke="#000" stroke-width="0.15">Naive</text>
<text transform="translate(140 732.5) scale(0.86 1)" font-size="9.3" text-anchor="middle" font-weight="bold" stroke="#000" stroke-width="0.15">Th1</text>
<rect x="216.2" y="584.4" width="113.6" height="113.9" fill="none" stroke="#000" stroke-width="1.25"/>
<line x1="214.2" y1="584.4" x2="216.2" y2="584.4" stroke="#000" stroke-width="0.9"/>
<text x="211.5" y="587.5" font-size="8.6" text-anchor="end" stroke="#000" stroke-width="0.12">60</text>
<line x1="214.2" y1="612.8" x2="216.2" y2="612.8" stroke="#000" stroke-width="0.9"/>
<text x="211.5" y="615.9" font-size="8.6" text-anchor="end" stroke="#000" stroke-width="0.12">40</text>
<line x1="214.2" y1="641.4" x2="216.2" y2="641.4" stroke="#000" stroke-width="0.9"/>
<text x="211.5" y="644.5" font-size="8.6" text-anchor="end" stroke="#000" stroke-width="0.12">20</text>
<line x1="214.2" y1="670" x2="216.2" y2="670" stroke="#000" stroke-width="0.9"/>
<text x="211.5" y="673.1" font-size="8.6" text-anchor="end" stroke="#000" stroke-width="0.12">0</text>
<line x1="214.2" y1="698.3" x2="216.2" y2="698.3" stroke="#000" stroke-width="0.9"/>
<text x="211.5" y="701.4" font-size="8.6" text-anchor="end" stroke="#000" stroke-width="0.12">20</text>
<text transform="translate(181.8 641) rotate(-90)" font-size="11.5" text-anchor="middle" font-weight="bold" font-style="italic" stroke="#000" stroke-width="0.2">RORAd</text>
<text transform="translate(193.6 641.2) rotate(-90)" font-size="10.5" text-anchor="middle" font-weight="bold" stroke="#000" stroke-width="0.15">Relative Enrichment</text>
<line x1="230.25" y1="641.8" x2="230.25" y2="638.2" stroke="#000" stroke-width="1"/>
<line x1="225.25" y1="638.2" x2="235.25" y2="638.2" stroke="#000" stroke-width="1"/>
<rect x="221.05" y="670.55" width="18.4" height="0.75" fill="#fff" stroke="#000" stroke-width="1.15"/>
<rect x="220.5" y="641.8" width="19.5" height="28.2" fill="#000"/>
<line x1="258.55" y1="648.2" x2="258.55" y2="644.5" stroke="#000" stroke-width="1"/>
<line x1="253.55" y1="644.5" x2="263.55" y2="644.5" stroke="#000" stroke-width="1"/>
<rect x="249.35" y="670.55" width="18.4" height="0.25" fill="#fff" stroke="#000" stroke-width="1.15"/>
<rect x="248.8" y="648.2" width="19.5" height="21.8" fill="#000"/>
<line x1="286.65" y1="643" x2="286.65" y2="636.6" stroke="#000" stroke-width="1"/>
<line x1="281.65" y1="636.6" x2="291.65" y2="636.6" stroke="#000" stroke-width="1"/>
<rect x="277.55" y="670.55" width="18.2" height="1.45" fill="#fff" stroke="#000" stroke-width="1.15"/>
<rect x="277" y="643" width="19.3" height="27" fill="#000"/>
<line x1="315.25" y1="620" x2="315.25" y2="590.8" stroke="#000" stroke-width="1"/>
<line x1="310.25" y1="590.8" x2="320.25" y2="590.8" stroke="#000" stroke-width="1"/>
<rect x="306.05" y="670.55" width="18.4" height="0.45" fill="#fff" stroke="#000" stroke-width="1.15"/>
<rect x="305.5" y="620" width="19.5" height="50" fill="#000"/>
<line x1="216.2" y1="670" x2="329.8" y2="670" stroke="#000" stroke-width="1.4"/>
<rect x="220.5" y="590.4" width="10" height="6.4" fill="#000"/>
<rect x="221.05" y="602.85" width="8.9" height="5.55" fill="#fff" stroke="#000" stroke-width="1.15"/>
<text x="236.2" y="595.8" font-size="9.45" stroke="#000" stroke-width="0.15">H3K4me3</text>
<text x="236.2" y="607.6" font-size="9.45" stroke="#000" stroke-width="0.15">H3K27me3</text>
<text transform="translate(227.2 710.5) scale(0.86 1)" font-size="9.3" text-anchor="middle" stroke="#000" stroke-width="0.12">pCCL</text>
<text transform="translate(253.4 710.5) scale(0.86 1)" font-size="9.3" text-anchor="middle" stroke="#000" stroke-width="0.12">pCCL.</text>
<text transform="translate(254.1 720.5) scale(0.86 1)" font-size="9.3" text-anchor="middle" stroke="#000" stroke-width="0.12">RORC2</text>
<text transform="translate(284.8 710.5) scale(0.86 1)" font-size="9.3" text-anchor="middle" stroke="#000" stroke-width="0.12">pCCL</text>
<text transform="translate(313.2 710.5) scale(0.86 1)" font-size="9.3" text-anchor="middle" stroke="#000" stroke-width="0.12">pCCL.</text>
<text transform="translate(313.9 720.5) scale(0.86 1)" font-size="9.3" text-anchor="middle" stroke="#000" stroke-width="0.12">RORC2</text>
<line x1="214.3" y1="725.8" x2="268.3" y2="725.8" stroke="#000" stroke-width="1.5"/>
<line x1="274.5" y1="725.8" x2="328.6" y2="725.8" stroke="#000" stroke-width="1.5"/>
<text transform="translate(241.3 735.5) scale(0.86 1)" font-size="9.3" text-anchor="middle" font-weight="bold" stroke="#000" stroke-width="0.15">Naive</text>
<text transform="translate(304.3 735.5) scale(0.86 1)" font-size="9.3" text-anchor="middle" font-weight="bold" stroke="#000" stroke-width="0.15">Th1</text>
<rect x="376.3" y="585.8" width="114.1" height="113.4" fill="none" stroke="#000" stroke-width="1.25"/>
<line x1="374.3" y1="586.2" x2="376.3" y2="586.2" stroke="#000" stroke-width="0.9"/>
<text x="371.6" y="590.1" font-size="8.6" text-anchor="end" stroke="#000" stroke-width="0.12">30</text>
<line x1="374.3" y1="613.8" x2="376.3" y2="613.8" stroke="#000" stroke-width="0.9"/>
<text x="371.6" y="617.7" font-size="8.6" text-anchor="end" stroke="#000" stroke-width="0.12">20</text>
<line x1="374.3" y1="642.4" x2="376.3" y2="642.4" stroke="#000" stroke-width="0.9"/>
<text x="371.6" y="646.3" font-size="8.6" text-anchor="end" stroke="#000" stroke-width="0.12">10</text>
<line x1="374.3" y1="670.5" x2="376.3" y2="670.5" stroke="#000" stroke-width="0.9"/>
<text x="371.6" y="674.4" font-size="8.6" text-anchor="end" stroke="#000" stroke-width="0.12">0</text>
<line x1="374.3" y1="698.8" x2="376.3" y2="698.8" stroke="#000" stroke-width="0.9"/>
<text x="371.6" y="702.7" font-size="8.6" text-anchor="end" stroke="#000" stroke-width="0.12">10</text>
<text transform="translate(350 641) rotate(-90)" font-size="11.5" text-anchor="middle" font-weight="bold" font-style="italic" stroke="#000" stroke-width="0.2">RORC2</text>
<text transform="translate(361.2 641.2) rotate(-90)" font-size="10.5" text-anchor="middle" font-weight="bold" stroke="#000" stroke-width="0.15">Relative Enrichment</text>
<line x1="390.9" y1="674.5" x2="390.9" y2="676.3" stroke="#000" stroke-width="1"/>
<line x1="385.9" y1="676.3" x2="395.9" y2="676.3" stroke="#000" stroke-width="1"/>
<rect x="381.85" y="671.05" width="18.1" height="3.45" fill="#fff" stroke="#000" stroke-width="1.15"/>
<rect x="381.3" y="669.2" width="19.2" height="1.3" fill="#000"/>
<line x1="419.15" y1="668.6" x2="419.15" y2="667.4" stroke="#000" stroke-width="1"/>
<line x1="414.15" y1="667.4" x2="424.15" y2="667.4" stroke="#000" stroke-width="1"/>
<rect x="410.05" y="671.05" width="18.2" height="1.95" fill="#fff" stroke="#000" stroke-width="1.15"/>
<rect x="409.5" y="668.6" width="19.3" height="1.9" fill="#000"/>
<line x1="447.75" y1="675" x2="447.75" y2="677.5" stroke="#000" stroke-width="1"/>
<line x1="442.75" y1="677.5" x2="452.75" y2="677.5" stroke="#000" stroke-width="1"/>
<rect x="438.55" y="671.05" width="18.4" height="3.95" fill="#fff" stroke="#000" stroke-width="1.15"/>
<rect x="438" y="669.9" width="19.5" height="0.6" fill="#000"/>
<rect x="467.35" y="671.05" width="17.9" height="2.15" fill="#fff" stroke="#000" stroke-width="1.15"/>
<rect x="466.8" y="669.2" width="19" height="1.3" fill="#000"/>
<line x1="376.3" y1="670.5" x2="490.4" y2="670.5" stroke="#000" stroke-width="1.4"/>
<rect x="383.8" y="592" width="10" height="5.6" fill="#000"/>
<rect x="384.35" y="603.75" width="8.9" height="5.55" fill="#fff" stroke="#000" stroke-width="1.15"/>
<text x="399.5" y="597" font-size="9.45" stroke="#000" stroke-width="0.15">H3K4me3</text>
<text x="399.5" y="608.8" font-size="9.45" stroke="#000" stroke-width="0.15">H3K27me3</text>
<text transform="translate(389.4 710.3) scale(0.86 1)" font-size="9.3" text-anchor="middle" stroke="#000" stroke-width="0.12">pCCL</text>
<text transform="translate(415.6 710.3) scale(0.86 1)" font-size="9.3" text-anchor="middle" stroke="#000" stroke-width="0.12">pCCL.</text>
<text transform="translate(416.3 720.4) scale(0.86 1)" font-size="9.3" text-anchor="middle" stroke="#000" stroke-width="0.12">RORC2</text>
<text transform="translate(447.5 710.3) scale(0.86 1)" font-size="9.3" text-anchor="middle" stroke="#000" stroke-width="0.12">pCCL</text>
<text transform="translate(475.3 710.3) scale(0.86 1)" font-size="9.3" text-anchor="middle" stroke="#000" stroke-width="0.12">pCCL.</text>
<text transform="translate(476 720.4) scale(0.86 1)" font-size="9.3" text-anchor="middle" stroke="#000" stroke-width="0.12">RORC2</text>
<line x1="376.3" y1="726.3" x2="431.3" y2="726.3" stroke="#000" stroke-width="1.5"/>
<line x1="437.5" y1="726.3" x2="490.8" y2="726.3" stroke="#000" stroke-width="1.5"/>
<text transform="translate(405 736.2) scale(0.86 1)" font-size="9.3" text-anchor="middle" font-weight="bold" stroke="#000" stroke-width="0.15">Naive</text>
<text transform="translate(467.5 736.2) scale(0.86 1)" font-size="9.3" text-anchor="middle" font-weight="bold" stroke="#000" stroke-width="0.15">Th1</text>
</svg>
</body></html>
